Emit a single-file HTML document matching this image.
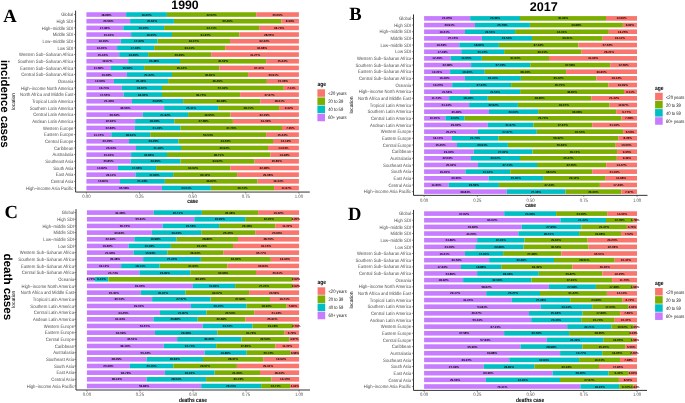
<!DOCTYPE html>
<html><head><meta charset="utf-8"><title>Stacked bars</title>
<style>html,body{margin:0;padding:0;background:#fff;width:685px;height:403px;overflow:hidden;} body{position:relative;font-family:"Liberation Sans", sans-serif;}</style>
</head><body>
<svg width="685" height="403" viewBox="0 0 685 403" style="position:absolute;left:0;top:0;will-change:transform" text-rendering="geometricPrecision">
<rect x="0" y="0" width="685" height="403" fill="#fff"/>
<text transform="translate(73.3,16.20) scale(0.875,1)" text-anchor="end" font-size="4.8" fill="#4d4d4d" font-family='"Liberation Sans", sans-serif'>Global</text>
<line x1="74.00" x2="75.60" y1="14.55" y2="14.55" stroke="#333" stroke-width="0.55"/>
<text transform="translate(73.3,22.87) scale(0.875,1)" text-anchor="end" font-size="4.8" fill="#4d4d4d" font-family='"Liberation Sans", sans-serif'>High SDI</text>
<line x1="74.00" x2="75.60" y1="21.22" y2="21.22" stroke="#333" stroke-width="0.55"/>
<text transform="translate(73.3,29.54) scale(0.875,1)" text-anchor="end" font-size="4.8" fill="#4d4d4d" font-family='"Liberation Sans", sans-serif'>High&#8722;middle SDI</text>
<line x1="74.00" x2="75.60" y1="27.89" y2="27.89" stroke="#333" stroke-width="0.55"/>
<text transform="translate(73.3,36.21) scale(0.875,1)" text-anchor="end" font-size="4.8" fill="#4d4d4d" font-family='"Liberation Sans", sans-serif'>Middle SDI</text>
<line x1="74.00" x2="75.60" y1="34.56" y2="34.56" stroke="#333" stroke-width="0.55"/>
<text transform="translate(73.3,42.88) scale(0.875,1)" text-anchor="end" font-size="4.8" fill="#4d4d4d" font-family='"Liberation Sans", sans-serif'>Low&#8722;middle SDI</text>
<line x1="74.00" x2="75.60" y1="41.23" y2="41.23" stroke="#333" stroke-width="0.55"/>
<text transform="translate(73.3,49.56) scale(0.875,1)" text-anchor="end" font-size="4.8" fill="#4d4d4d" font-family='"Liberation Sans", sans-serif'>Low SDI</text>
<line x1="74.00" x2="75.60" y1="47.91" y2="47.91" stroke="#333" stroke-width="0.55"/>
<text transform="translate(73.3,56.23) scale(0.875,1)" text-anchor="end" font-size="4.8" fill="#4d4d4d" font-family='"Liberation Sans", sans-serif'>Western Sub&#8722;Saharan Africa</text>
<line x1="74.00" x2="75.60" y1="54.58" y2="54.58" stroke="#333" stroke-width="0.55"/>
<text transform="translate(73.3,62.90) scale(0.875,1)" text-anchor="end" font-size="4.8" fill="#4d4d4d" font-family='"Liberation Sans", sans-serif'>Southern Sub&#8722;Saharan Africa</text>
<line x1="74.00" x2="75.60" y1="61.25" y2="61.25" stroke="#333" stroke-width="0.55"/>
<text transform="translate(73.3,69.57) scale(0.875,1)" text-anchor="end" font-size="4.8" fill="#4d4d4d" font-family='"Liberation Sans", sans-serif'>Eastern Sub&#8722;Saharan Africa</text>
<line x1="74.00" x2="75.60" y1="67.92" y2="67.92" stroke="#333" stroke-width="0.55"/>
<text transform="translate(73.3,76.24) scale(0.875,1)" text-anchor="end" font-size="4.8" fill="#4d4d4d" font-family='"Liberation Sans", sans-serif'>Central Sub&#8722;Saharan Africa</text>
<line x1="74.00" x2="75.60" y1="74.59" y2="74.59" stroke="#333" stroke-width="0.55"/>
<text transform="translate(73.3,82.91) scale(0.875,1)" text-anchor="end" font-size="4.8" fill="#4d4d4d" font-family='"Liberation Sans", sans-serif'>Oceania</text>
<line x1="74.00" x2="75.60" y1="81.26" y2="81.26" stroke="#333" stroke-width="0.55"/>
<text transform="translate(73.3,89.58) scale(0.875,1)" text-anchor="end" font-size="4.8" fill="#4d4d4d" font-family='"Liberation Sans", sans-serif'>High&#8722;income North America</text>
<line x1="74.00" x2="75.60" y1="87.93" y2="87.93" stroke="#333" stroke-width="0.55"/>
<text transform="translate(73.3,96.25) scale(0.875,1)" text-anchor="end" font-size="4.8" fill="#4d4d4d" font-family='"Liberation Sans", sans-serif'>North Africa and Middle East</text>
<line x1="74.00" x2="75.60" y1="94.60" y2="94.60" stroke="#333" stroke-width="0.55"/>
<text transform="translate(73.3,102.92) scale(0.875,1)" text-anchor="end" font-size="4.8" fill="#4d4d4d" font-family='"Liberation Sans", sans-serif'>Tropical Latin America</text>
<line x1="74.00" x2="75.60" y1="101.27" y2="101.27" stroke="#333" stroke-width="0.55"/>
<text transform="translate(73.3,109.60) scale(0.875,1)" text-anchor="end" font-size="4.8" fill="#4d4d4d" font-family='"Liberation Sans", sans-serif'>Southern Latin America</text>
<line x1="74.00" x2="75.60" y1="107.95" y2="107.95" stroke="#333" stroke-width="0.55"/>
<text transform="translate(73.3,116.27) scale(0.875,1)" text-anchor="end" font-size="4.8" fill="#4d4d4d" font-family='"Liberation Sans", sans-serif'>Central Latin America</text>
<line x1="74.00" x2="75.60" y1="114.62" y2="114.62" stroke="#333" stroke-width="0.55"/>
<text transform="translate(73.3,122.94) scale(0.875,1)" text-anchor="end" font-size="4.8" fill="#4d4d4d" font-family='"Liberation Sans", sans-serif'>Andean Latin America</text>
<line x1="74.00" x2="75.60" y1="121.29" y2="121.29" stroke="#333" stroke-width="0.55"/>
<text transform="translate(73.3,129.61) scale(0.875,1)" text-anchor="end" font-size="4.8" fill="#4d4d4d" font-family='"Liberation Sans", sans-serif'>Western Europe</text>
<line x1="74.00" x2="75.60" y1="127.96" y2="127.96" stroke="#333" stroke-width="0.55"/>
<text transform="translate(73.3,136.28) scale(0.875,1)" text-anchor="end" font-size="4.8" fill="#4d4d4d" font-family='"Liberation Sans", sans-serif'>Eastern Europe</text>
<line x1="74.00" x2="75.60" y1="134.63" y2="134.63" stroke="#333" stroke-width="0.55"/>
<text transform="translate(73.3,142.95) scale(0.875,1)" text-anchor="end" font-size="4.8" fill="#4d4d4d" font-family='"Liberation Sans", sans-serif'>Central Europe</text>
<line x1="74.00" x2="75.60" y1="141.30" y2="141.30" stroke="#333" stroke-width="0.55"/>
<text transform="translate(73.3,149.62) scale(0.875,1)" text-anchor="end" font-size="4.8" fill="#4d4d4d" font-family='"Liberation Sans", sans-serif'>Caribbean</text>
<line x1="74.00" x2="75.60" y1="147.97" y2="147.97" stroke="#333" stroke-width="0.55"/>
<text transform="translate(73.3,156.29) scale(0.875,1)" text-anchor="end" font-size="4.8" fill="#4d4d4d" font-family='"Liberation Sans", sans-serif'>Australasia</text>
<line x1="74.00" x2="75.60" y1="154.64" y2="154.64" stroke="#333" stroke-width="0.55"/>
<text transform="translate(73.3,162.97) scale(0.875,1)" text-anchor="end" font-size="4.8" fill="#4d4d4d" font-family='"Liberation Sans", sans-serif'>Southeast Asia</text>
<line x1="74.00" x2="75.60" y1="161.32" y2="161.32" stroke="#333" stroke-width="0.55"/>
<text transform="translate(73.3,169.64) scale(0.875,1)" text-anchor="end" font-size="4.8" fill="#4d4d4d" font-family='"Liberation Sans", sans-serif'>South Asia</text>
<line x1="74.00" x2="75.60" y1="167.99" y2="167.99" stroke="#333" stroke-width="0.55"/>
<text transform="translate(73.3,176.31) scale(0.875,1)" text-anchor="end" font-size="4.8" fill="#4d4d4d" font-family='"Liberation Sans", sans-serif'>East Asia</text>
<line x1="74.00" x2="75.60" y1="174.66" y2="174.66" stroke="#333" stroke-width="0.55"/>
<text transform="translate(73.3,182.98) scale(0.875,1)" text-anchor="end" font-size="4.8" fill="#4d4d4d" font-family='"Liberation Sans", sans-serif'>Central Asia</text>
<line x1="74.00" x2="75.60" y1="181.33" y2="181.33" stroke="#333" stroke-width="0.55"/>
<text transform="translate(73.3,189.65) scale(0.875,1)" text-anchor="end" font-size="4.8" fill="#4d4d4d" font-family='"Liberation Sans", sans-serif'>High&#8722;income Asia Pacific</text>
<line x1="74.00" x2="75.60" y1="188.00" y2="188.00" stroke="#333" stroke-width="0.55"/>
<rect x="86.40" y="12.25" width="39.70" height="4.6" fill="#C77CFF"/>
<rect x="126.10" y="12.25" width="40.80" height="4.6" fill="#00BFC4"/>
<rect x="166.90" y="12.25" width="89.30" height="4.6" fill="#7CAE00"/>
<rect x="256.20" y="12.25" width="42.70" height="4.6" fill="#F8766D"/>
<rect x="86.40" y="18.92" width="43.70" height="4.6" fill="#C77CFF"/>
<rect x="130.10" y="18.92" width="43.80" height="4.6" fill="#00BFC4"/>
<rect x="173.90" y="18.92" width="107.30" height="4.6" fill="#7CAE00"/>
<rect x="281.20" y="18.92" width="17.70" height="4.6" fill="#F8766D"/>
<rect x="86.40" y="25.59" width="36.90" height="4.6" fill="#C77CFF"/>
<rect x="123.30" y="25.59" width="40.80" height="4.6" fill="#00BFC4"/>
<rect x="164.10" y="25.59" width="95.00" height="4.6" fill="#7CAE00"/>
<rect x="259.10" y="25.59" width="39.80" height="4.6" fill="#F8766D"/>
<rect x="86.40" y="32.26" width="44.70" height="4.6" fill="#C77CFF"/>
<rect x="131.10" y="32.26" width="40.90" height="4.6" fill="#00BFC4"/>
<rect x="172.00" y="32.26" width="67.30" height="4.6" fill="#7CAE00"/>
<rect x="239.30" y="32.26" width="59.60" height="4.6" fill="#F8766D"/>
<rect x="86.40" y="38.93" width="34.40" height="4.6" fill="#C77CFF"/>
<rect x="120.80" y="38.93" width="36.80" height="4.6" fill="#00BFC4"/>
<rect x="157.60" y="38.93" width="72.40" height="4.6" fill="#7CAE00"/>
<rect x="230.00" y="38.93" width="68.90" height="4.6" fill="#F8766D"/>
<rect x="86.40" y="45.61" width="30.70" height="4.6" fill="#C77CFF"/>
<rect x="117.10" y="45.61" width="37.10" height="4.6" fill="#00BFC4"/>
<rect x="154.20" y="45.61" width="71.00" height="4.6" fill="#7CAE00"/>
<rect x="225.20" y="45.61" width="73.70" height="4.6" fill="#F8766D"/>
<rect x="86.40" y="52.28" width="32.80" height="4.6" fill="#C77CFF"/>
<rect x="119.20" y="52.28" width="28.90" height="4.6" fill="#00BFC4"/>
<rect x="148.10" y="52.28" width="63.10" height="4.6" fill="#7CAE00"/>
<rect x="211.20" y="52.28" width="87.70" height="4.6" fill="#F8766D"/>
<rect x="86.40" y="58.95" width="41.80" height="4.6" fill="#C77CFF"/>
<rect x="128.20" y="58.95" width="51.80" height="4.6" fill="#00BFC4"/>
<rect x="180.00" y="58.95" width="86.10" height="4.6" fill="#7CAE00"/>
<rect x="266.10" y="58.95" width="32.80" height="4.6" fill="#F8766D"/>
<rect x="86.40" y="65.62" width="24.60" height="4.6" fill="#C77CFF"/>
<rect x="111.00" y="65.62" width="33.10" height="4.6" fill="#00BFC4"/>
<rect x="144.10" y="65.62" width="75.30" height="4.6" fill="#7CAE00"/>
<rect x="219.40" y="65.62" width="79.50" height="4.6" fill="#F8766D"/>
<rect x="86.40" y="72.29" width="40.50" height="4.6" fill="#C77CFF"/>
<rect x="126.90" y="72.29" width="45.10" height="4.6" fill="#00BFC4"/>
<rect x="172.00" y="72.29" width="76.10" height="4.6" fill="#7CAE00"/>
<rect x="248.10" y="72.29" width="50.80" height="4.6" fill="#F8766D"/>
<rect x="86.40" y="78.96" width="27.60" height="4.6" fill="#C77CFF"/>
<rect x="114.00" y="78.96" width="54.10" height="4.6" fill="#00BFC4"/>
<rect x="168.10" y="78.96" width="98.80" height="4.6" fill="#7CAE00"/>
<rect x="266.90" y="78.96" width="32.00" height="4.6" fill="#F8766D"/>
<rect x="86.40" y="85.63" width="35.50" height="4.6" fill="#C77CFF"/>
<rect x="121.90" y="85.63" width="40.10" height="4.6" fill="#00BFC4"/>
<rect x="162.00" y="85.63" width="121.80" height="4.6" fill="#7CAE00"/>
<rect x="283.80" y="85.63" width="15.10" height="4.6" fill="#F8766D"/>
<rect x="86.40" y="92.30" width="37.30" height="4.6" fill="#C77CFF"/>
<rect x="123.70" y="92.30" width="38.30" height="4.6" fill="#00BFC4"/>
<rect x="162.00" y="92.30" width="78.10" height="4.6" fill="#7CAE00"/>
<rect x="240.10" y="92.30" width="58.80" height="4.6" fill="#F8766D"/>
<rect x="86.40" y="98.97" width="45.60" height="4.6" fill="#C77CFF"/>
<rect x="132.00" y="98.97" width="51.10" height="4.6" fill="#00BFC4"/>
<rect x="183.10" y="98.97" width="77.10" height="4.6" fill="#7CAE00"/>
<rect x="260.20" y="98.97" width="38.70" height="4.6" fill="#F8766D"/>
<rect x="86.40" y="105.65" width="77.70" height="4.6" fill="#C77CFF"/>
<rect x="164.10" y="105.65" width="54.00" height="4.6" fill="#00BFC4"/>
<rect x="218.10" y="105.65" width="61.00" height="4.6" fill="#7CAE00"/>
<rect x="279.10" y="105.65" width="19.80" height="4.6" fill="#F8766D"/>
<rect x="86.40" y="112.32" width="56.40" height="4.6" fill="#C77CFF"/>
<rect x="142.80" y="112.32" width="45.30" height="4.6" fill="#00BFC4"/>
<rect x="188.10" y="112.32" width="42.40" height="4.6" fill="#7CAE00"/>
<rect x="230.50" y="112.32" width="68.40" height="4.6" fill="#F8766D"/>
<rect x="86.40" y="118.99" width="48.70" height="4.6" fill="#C77CFF"/>
<rect x="135.10" y="118.99" width="39.20" height="4.6" fill="#00BFC4"/>
<rect x="174.30" y="118.99" width="58.60" height="4.6" fill="#7CAE00"/>
<rect x="232.90" y="118.99" width="66.00" height="4.6" fill="#F8766D"/>
<rect x="86.40" y="125.66" width="48.50" height="4.6" fill="#C77CFF"/>
<rect x="134.90" y="125.66" width="45.60" height="4.6" fill="#00BFC4"/>
<rect x="180.50" y="125.66" width="101.50" height="4.6" fill="#7CAE00"/>
<rect x="282.00" y="125.66" width="16.90" height="4.6" fill="#F8766D"/>
<rect x="86.40" y="132.33" width="24.90" height="4.6" fill="#C77CFF"/>
<rect x="111.30" y="132.33" width="38.90" height="4.6" fill="#00BFC4"/>
<rect x="150.20" y="132.33" width="115.90" height="4.6" fill="#7CAE00"/>
<rect x="266.10" y="132.33" width="32.80" height="4.6" fill="#F8766D"/>
<rect x="86.40" y="139.00" width="42.60" height="4.6" fill="#C77CFF"/>
<rect x="129.00" y="139.00" width="49.40" height="4.6" fill="#00BFC4"/>
<rect x="178.40" y="139.00" width="94.60" height="4.6" fill="#7CAE00"/>
<rect x="273.00" y="139.00" width="25.90" height="4.6" fill="#F8766D"/>
<rect x="86.40" y="145.67" width="49.60" height="4.6" fill="#C77CFF"/>
<rect x="136.00" y="145.67" width="45.00" height="4.6" fill="#00BFC4"/>
<rect x="181.00" y="145.67" width="87.00" height="4.6" fill="#7CAE00"/>
<rect x="268.00" y="145.67" width="30.90" height="4.6" fill="#F8766D"/>
<rect x="86.40" y="152.34" width="44.70" height="4.6" fill="#C77CFF"/>
<rect x="131.10" y="152.34" width="35.90" height="4.6" fill="#00BFC4"/>
<rect x="167.00" y="152.34" width="103.50" height="4.6" fill="#7CAE00"/>
<rect x="270.50" y="152.34" width="28.40" height="4.6" fill="#F8766D"/>
<rect x="86.40" y="159.02" width="44.30" height="4.6" fill="#C77CFF"/>
<rect x="130.70" y="159.02" width="49.70" height="4.6" fill="#00BFC4"/>
<rect x="180.40" y="159.02" width="74.20" height="4.6" fill="#7CAE00"/>
<rect x="254.60" y="159.02" width="44.30" height="4.6" fill="#F8766D"/>
<rect x="86.40" y="165.69" width="31.50" height="4.6" fill="#C77CFF"/>
<rect x="117.90" y="165.69" width="38.20" height="4.6" fill="#00BFC4"/>
<rect x="156.10" y="165.69" width="74.20" height="4.6" fill="#7CAE00"/>
<rect x="230.30" y="165.69" width="68.60" height="4.6" fill="#F8766D"/>
<rect x="86.40" y="172.36" width="49.10" height="4.6" fill="#C77CFF"/>
<rect x="135.50" y="172.36" width="37.60" height="4.6" fill="#00BFC4"/>
<rect x="173.10" y="172.36" width="64.00" height="4.6" fill="#7CAE00"/>
<rect x="237.10" y="172.36" width="61.80" height="4.6" fill="#F8766D"/>
<rect x="86.40" y="179.03" width="33.60" height="4.6" fill="#C77CFF"/>
<rect x="120.00" y="179.03" width="44.90" height="4.6" fill="#00BFC4"/>
<rect x="164.90" y="179.03" width="92.70" height="4.6" fill="#7CAE00"/>
<rect x="257.60" y="179.03" width="41.30" height="4.6" fill="#F8766D"/>
<rect x="86.40" y="185.70" width="75.60" height="4.6" fill="#C77CFF"/>
<rect x="162.00" y="185.70" width="48.90" height="4.6" fill="#00BFC4"/>
<rect x="210.90" y="185.70" width="63.20" height="4.6" fill="#7CAE00"/>
<rect x="274.10" y="185.70" width="24.80" height="4.6" fill="#F8766D"/>
<g font-size="3.0" font-weight="bold" text-anchor="middle" fill="#000" font-family='"Liberation Sans", sans-serif'><text x="106.25" y="15.60">18.68%</text><text x="146.50" y="15.60">19.20%</text><text x="211.55" y="15.60">42.02%</text><text x="277.55" y="15.60">20.09%</text><text x="108.25" y="22.27">20.56%</text><text x="152.00" y="22.27">20.61%</text><text x="227.55" y="22.27">50.49%</text><text x="290.05" y="22.27">8.33%</text><text x="104.85" y="28.94">17.36%</text><text x="143.70" y="28.94">19.20%</text><text x="211.60" y="28.94">44.71%</text><text x="279.00" y="28.94">18.73%</text><text x="108.75" y="35.61">21.04%</text><text x="151.55" y="35.61">19.25%</text><text x="205.65" y="35.61">31.67%</text><text x="269.10" y="35.61">28.05%</text><text x="103.60" y="42.28">16.19%</text><text x="139.20" y="42.28">17.32%</text><text x="193.80" y="42.28">34.07%</text><text x="264.45" y="42.28">32.42%</text><text x="101.75" y="48.96">14.45%</text><text x="135.65" y="48.96">17.46%</text><text x="189.70" y="48.96">33.41%</text><text x="262.05" y="48.96">34.68%</text><text x="102.80" y="55.63">15.44%</text><text x="133.65" y="55.63">13.60%</text><text x="179.65" y="55.63">29.69%</text><text x="255.05" y="55.63">41.27%</text><text x="107.30" y="62.30">19.67%</text><text x="154.10" y="62.30">24.38%</text><text x="223.05" y="62.30">40.52%</text><text x="282.50" y="62.30">15.44%</text><text x="98.70" y="68.97">11.58%</text><text x="127.55" y="68.97">15.58%</text><text x="181.75" y="68.97">35.44%</text><text x="259.15" y="68.97">37.41%</text><text x="106.65" y="75.64">19.06%</text><text x="149.45" y="75.64">21.22%</text><text x="210.05" y="75.64">35.81%</text><text x="273.50" y="75.64">23.91%</text><text x="100.20" y="82.31">12.99%</text><text x="141.05" y="82.31">25.46%</text><text x="217.50" y="82.31">46.49%</text><text x="282.90" y="82.31">15.06%</text><text x="104.15" y="88.98">16.71%</text><text x="141.95" y="88.98">18.87%</text><text x="222.90" y="88.98">57.32%</text><text x="291.35" y="88.98">7.11%</text><text x="105.05" y="95.65">17.55%</text><text x="142.85" y="95.65">18.02%</text><text x="201.05" y="95.65">36.75%</text><text x="269.50" y="95.65">27.67%</text><text x="109.20" y="102.32">21.46%</text><text x="157.55" y="102.32">24.05%</text><text x="221.65" y="102.32">36.28%</text><text x="279.55" y="102.32">18.21%</text><text x="125.25" y="109.00">36.56%</text><text x="191.10" y="109.00">25.41%</text><text x="248.60" y="109.00">28.71%</text><text x="289.00" y="109.00">9.32%</text><text x="114.60" y="115.67">26.54%</text><text x="165.45" y="115.67">21.32%</text><text x="209.30" y="115.67">19.95%</text><text x="264.70" y="115.67">32.19%</text><text x="110.75" y="122.34">22.92%</text><text x="154.70" y="122.34">18.45%</text><text x="203.60" y="122.34">27.58%</text><text x="265.90" y="122.34">31.06%</text><text x="110.65" y="129.01">22.82%</text><text x="157.70" y="129.01">21.46%</text><text x="231.25" y="129.01">47.76%</text><text x="290.45" y="129.01">7.95%</text><text x="98.85" y="135.68">11.72%</text><text x="130.75" y="135.68">18.31%</text><text x="208.15" y="135.68">54.54%</text><text x="282.50" y="135.68">15.44%</text><text x="107.70" y="142.35">20.05%</text><text x="153.70" y="142.35">23.25%</text><text x="225.70" y="142.35">44.52%</text><text x="285.95" y="142.35">12.19%</text><text x="111.20" y="149.02">23.34%</text><text x="158.50" y="149.02">21.18%</text><text x="224.50" y="149.02">40.94%</text><text x="283.45" y="149.02">14.54%</text><text x="108.75" y="155.69">21.04%</text><text x="149.05" y="155.69">16.89%</text><text x="218.75" y="155.69">48.71%</text><text x="284.70" y="155.69">13.36%</text><text x="108.55" y="162.37">20.85%</text><text x="155.55" y="162.37">23.39%</text><text x="217.50" y="162.37">34.92%</text><text x="276.75" y="162.37">20.85%</text><text x="102.15" y="169.04">14.82%</text><text x="137.00" y="169.04">17.98%</text><text x="193.20" y="169.04">34.92%</text><text x="264.60" y="169.04">32.28%</text><text x="110.95" y="175.71">23.11%</text><text x="154.30" y="175.71">17.69%</text><text x="205.10" y="175.71">30.12%</text><text x="268.00" y="175.71">29.08%</text><text x="103.20" y="182.38">15.81%</text><text x="142.45" y="182.38">21.13%</text><text x="211.25" y="182.38">43.62%</text><text x="278.25" y="182.38">19.44%</text><text x="124.20" y="189.05">35.58%</text><text x="186.45" y="189.05">23.01%</text><text x="242.50" y="189.05">29.74%</text><text x="286.50" y="189.05">11.67%</text></g>
<path d="M75.60 10.60 V192.05 H309.80" fill="none" stroke="#333" stroke-width="1.0"/>
<line x1="86.40" x2="86.40" y1="192.05" y2="193.65" stroke="#333" stroke-width="0.55"/>
<text transform="translate(86.40,197.60) scale(0.865,1)" text-anchor="middle" font-size="4.9" fill="#4d4d4d" font-family='"Liberation Sans", sans-serif'>0.00</text>
<line x1="139.53" x2="139.53" y1="192.05" y2="193.65" stroke="#333" stroke-width="0.55"/>
<text transform="translate(139.53,197.60) scale(0.865,1)" text-anchor="middle" font-size="4.9" fill="#4d4d4d" font-family='"Liberation Sans", sans-serif'>0.25</text>
<line x1="192.65" x2="192.65" y1="192.05" y2="193.65" stroke="#333" stroke-width="0.55"/>
<text transform="translate(192.65,197.60) scale(0.865,1)" text-anchor="middle" font-size="4.9" fill="#4d4d4d" font-family='"Liberation Sans", sans-serif'>0.50</text>
<line x1="245.77" x2="245.77" y1="192.05" y2="193.65" stroke="#333" stroke-width="0.55"/>
<text transform="translate(245.77,197.60) scale(0.865,1)" text-anchor="middle" font-size="4.9" fill="#4d4d4d" font-family='"Liberation Sans", sans-serif'>0.75</text>
<line x1="298.90" x2="298.90" y1="192.05" y2="193.65" stroke="#333" stroke-width="0.55"/>
<text transform="translate(298.90,197.60) scale(0.865,1)" text-anchor="middle" font-size="4.9" fill="#4d4d4d" font-family='"Liberation Sans", sans-serif'>1.00</text>
<text transform="translate(192.6,203.4) scale(0.815,1)" text-anchor="middle" font-size="6.0" font-weight="bold" fill="#000" font-family='"Liberation Sans", sans-serif'>case</text>
<text x="3.2" y="22.1" font-size="18.6" font-weight="bold" fill="#000" font-family='"Liberation Serif", serif'>A</text>
<text transform="translate(411.1,20.05) scale(0.875,1)" text-anchor="end" font-size="4.8" fill="#4d4d4d" font-family='"Liberation Sans", sans-serif'>Global</text>
<line x1="411.90" x2="413.50" y1="18.40" y2="18.40" stroke="#333" stroke-width="0.55"/>
<text transform="translate(411.1,26.71) scale(0.875,1)" text-anchor="end" font-size="4.8" fill="#4d4d4d" font-family='"Liberation Sans", sans-serif'>High SDI</text>
<line x1="411.90" x2="413.50" y1="25.06" y2="25.06" stroke="#333" stroke-width="0.55"/>
<text transform="translate(411.1,33.37) scale(0.875,1)" text-anchor="end" font-size="4.8" fill="#4d4d4d" font-family='"Liberation Sans", sans-serif'>High&#8722;middle SDI</text>
<line x1="411.90" x2="413.50" y1="31.72" y2="31.72" stroke="#333" stroke-width="0.55"/>
<text transform="translate(411.1,40.03) scale(0.875,1)" text-anchor="end" font-size="4.8" fill="#4d4d4d" font-family='"Liberation Sans", sans-serif'>Middle SDI</text>
<line x1="411.90" x2="413.50" y1="38.38" y2="38.38" stroke="#333" stroke-width="0.55"/>
<text transform="translate(411.1,46.70) scale(0.875,1)" text-anchor="end" font-size="4.8" fill="#4d4d4d" font-family='"Liberation Sans", sans-serif'>Low&#8722;middle SDI</text>
<line x1="411.90" x2="413.50" y1="45.05" y2="45.05" stroke="#333" stroke-width="0.55"/>
<text transform="translate(411.1,53.36) scale(0.875,1)" text-anchor="end" font-size="4.8" fill="#4d4d4d" font-family='"Liberation Sans", sans-serif'>Low SDI</text>
<line x1="411.90" x2="413.50" y1="51.71" y2="51.71" stroke="#333" stroke-width="0.55"/>
<text transform="translate(411.1,60.02) scale(0.875,1)" text-anchor="end" font-size="4.8" fill="#4d4d4d" font-family='"Liberation Sans", sans-serif'>Western Sub&#8722;Saharan Africa</text>
<line x1="411.90" x2="413.50" y1="58.37" y2="58.37" stroke="#333" stroke-width="0.55"/>
<text transform="translate(411.1,66.68) scale(0.875,1)" text-anchor="end" font-size="4.8" fill="#4d4d4d" font-family='"Liberation Sans", sans-serif'>Southern Sub&#8722;Saharan Africa</text>
<line x1="411.90" x2="413.50" y1="65.03" y2="65.03" stroke="#333" stroke-width="0.55"/>
<text transform="translate(411.1,73.34) scale(0.875,1)" text-anchor="end" font-size="4.8" fill="#4d4d4d" font-family='"Liberation Sans", sans-serif'>Eastern Sub&#8722;Saharan Africa</text>
<line x1="411.90" x2="413.50" y1="71.69" y2="71.69" stroke="#333" stroke-width="0.55"/>
<text transform="translate(411.1,80.00) scale(0.875,1)" text-anchor="end" font-size="4.8" fill="#4d4d4d" font-family='"Liberation Sans", sans-serif'>Central Sub&#8722;Saharan Africa</text>
<line x1="411.90" x2="413.50" y1="78.35" y2="78.35" stroke="#333" stroke-width="0.55"/>
<text transform="translate(411.1,86.67) scale(0.875,1)" text-anchor="end" font-size="4.8" fill="#4d4d4d" font-family='"Liberation Sans", sans-serif'>Oceania</text>
<line x1="411.90" x2="413.50" y1="85.02" y2="85.02" stroke="#333" stroke-width="0.55"/>
<text transform="translate(411.1,93.33) scale(0.875,1)" text-anchor="end" font-size="4.8" fill="#4d4d4d" font-family='"Liberation Sans", sans-serif'>High&#8722;income North America</text>
<line x1="411.90" x2="413.50" y1="91.68" y2="91.68" stroke="#333" stroke-width="0.55"/>
<text transform="translate(411.1,99.99) scale(0.875,1)" text-anchor="end" font-size="4.8" fill="#4d4d4d" font-family='"Liberation Sans", sans-serif'>North Africa and Middle East</text>
<line x1="411.90" x2="413.50" y1="98.34" y2="98.34" stroke="#333" stroke-width="0.55"/>
<text transform="translate(411.1,106.65) scale(0.875,1)" text-anchor="end" font-size="4.8" fill="#4d4d4d" font-family='"Liberation Sans", sans-serif'>Tropical Latin America</text>
<line x1="411.90" x2="413.50" y1="105.00" y2="105.00" stroke="#333" stroke-width="0.55"/>
<text transform="translate(411.1,113.31) scale(0.875,1)" text-anchor="end" font-size="4.8" fill="#4d4d4d" font-family='"Liberation Sans", sans-serif'>Southern Latin America</text>
<line x1="411.90" x2="413.50" y1="111.66" y2="111.66" stroke="#333" stroke-width="0.55"/>
<text transform="translate(411.1,119.97) scale(0.875,1)" text-anchor="end" font-size="4.8" fill="#4d4d4d" font-family='"Liberation Sans", sans-serif'>Central Latin America</text>
<line x1="411.90" x2="413.50" y1="118.32" y2="118.32" stroke="#333" stroke-width="0.55"/>
<text transform="translate(411.1,126.63) scale(0.875,1)" text-anchor="end" font-size="4.8" fill="#4d4d4d" font-family='"Liberation Sans", sans-serif'>Andean Latin America</text>
<line x1="411.90" x2="413.50" y1="124.98" y2="124.98" stroke="#333" stroke-width="0.55"/>
<text transform="translate(411.1,133.30) scale(0.875,1)" text-anchor="end" font-size="4.8" fill="#4d4d4d" font-family='"Liberation Sans", sans-serif'>Western Europe</text>
<line x1="411.90" x2="413.50" y1="131.65" y2="131.65" stroke="#333" stroke-width="0.55"/>
<text transform="translate(411.1,139.96) scale(0.875,1)" text-anchor="end" font-size="4.8" fill="#4d4d4d" font-family='"Liberation Sans", sans-serif'>Eastern Europe</text>
<line x1="411.90" x2="413.50" y1="138.31" y2="138.31" stroke="#333" stroke-width="0.55"/>
<text transform="translate(411.1,146.62) scale(0.875,1)" text-anchor="end" font-size="4.8" fill="#4d4d4d" font-family='"Liberation Sans", sans-serif'>Central Europe</text>
<line x1="411.90" x2="413.50" y1="144.97" y2="144.97" stroke="#333" stroke-width="0.55"/>
<text transform="translate(411.1,153.28) scale(0.875,1)" text-anchor="end" font-size="4.8" fill="#4d4d4d" font-family='"Liberation Sans", sans-serif'>Caribbean</text>
<line x1="411.90" x2="413.50" y1="151.63" y2="151.63" stroke="#333" stroke-width="0.55"/>
<text transform="translate(411.1,159.94) scale(0.875,1)" text-anchor="end" font-size="4.8" fill="#4d4d4d" font-family='"Liberation Sans", sans-serif'>Australasia</text>
<line x1="411.90" x2="413.50" y1="158.29" y2="158.29" stroke="#333" stroke-width="0.55"/>
<text transform="translate(411.1,166.60) scale(0.875,1)" text-anchor="end" font-size="4.8" fill="#4d4d4d" font-family='"Liberation Sans", sans-serif'>Southeast Asia</text>
<line x1="411.90" x2="413.50" y1="164.95" y2="164.95" stroke="#333" stroke-width="0.55"/>
<text transform="translate(411.1,173.27) scale(0.875,1)" text-anchor="end" font-size="4.8" fill="#4d4d4d" font-family='"Liberation Sans", sans-serif'>South Asia</text>
<line x1="411.90" x2="413.50" y1="171.62" y2="171.62" stroke="#333" stroke-width="0.55"/>
<text transform="translate(411.1,179.93) scale(0.875,1)" text-anchor="end" font-size="4.8" fill="#4d4d4d" font-family='"Liberation Sans", sans-serif'>East Asia</text>
<line x1="411.90" x2="413.50" y1="178.28" y2="178.28" stroke="#333" stroke-width="0.55"/>
<text transform="translate(411.1,186.59) scale(0.875,1)" text-anchor="end" font-size="4.8" fill="#4d4d4d" font-family='"Liberation Sans", sans-serif'>Central Asia</text>
<line x1="411.90" x2="413.50" y1="184.94" y2="184.94" stroke="#333" stroke-width="0.55"/>
<text transform="translate(411.1,193.25) scale(0.875,1)" text-anchor="end" font-size="4.8" fill="#4d4d4d" font-family='"Liberation Sans", sans-serif'>High&#8722;income Asia Pacific</text>
<line x1="411.90" x2="413.50" y1="191.60" y2="191.60" stroke="#333" stroke-width="0.55"/>
<rect x="424.10" y="16.10" width="46.10" height="4.6" fill="#C77CFF"/>
<rect x="470.20" y="16.10" width="49.80" height="4.6" fill="#00BFC4"/>
<rect x="520.00" y="16.10" width="86.00" height="4.6" fill="#7CAE00"/>
<rect x="606.00" y="16.10" width="31.00" height="4.6" fill="#F8766D"/>
<rect x="424.10" y="22.76" width="50.90" height="4.6" fill="#C77CFF"/>
<rect x="475.00" y="22.76" width="54.90" height="4.6" fill="#00BFC4"/>
<rect x="529.90" y="22.76" width="93.00" height="4.6" fill="#7CAE00"/>
<rect x="622.90" y="22.76" width="14.10" height="4.6" fill="#F8766D"/>
<rect x="424.10" y="29.42" width="40.90" height="4.6" fill="#C77CFF"/>
<rect x="465.00" y="29.42" width="50.10" height="4.6" fill="#00BFC4"/>
<rect x="515.10" y="29.42" width="93.70" height="4.6" fill="#7CAE00"/>
<rect x="608.80" y="29.42" width="28.20" height="4.6" fill="#F8766D"/>
<rect x="424.10" y="36.08" width="57.80" height="4.6" fill="#C77CFF"/>
<rect x="481.90" y="36.08" width="50.10" height="4.6" fill="#00BFC4"/>
<rect x="532.00" y="36.08" width="70.70" height="4.6" fill="#7CAE00"/>
<rect x="602.70" y="36.08" width="34.30" height="4.6" fill="#F8766D"/>
<rect x="424.10" y="42.75" width="35.20" height="4.6" fill="#C77CFF"/>
<rect x="459.30" y="42.75" width="39.60" height="4.6" fill="#00BFC4"/>
<rect x="498.90" y="42.75" width="79.50" height="4.6" fill="#7CAE00"/>
<rect x="578.40" y="42.75" width="58.60" height="4.6" fill="#F8766D"/>
<rect x="424.10" y="49.41" width="37.10" height="4.6" fill="#C77CFF"/>
<rect x="461.20" y="49.41" width="42.90" height="4.6" fill="#00BFC4"/>
<rect x="504.10" y="49.41" width="77.10" height="4.6" fill="#7CAE00"/>
<rect x="581.20" y="49.41" width="55.80" height="4.6" fill="#F8766D"/>
<rect x="424.10" y="56.07" width="26.60" height="4.6" fill="#C77CFF"/>
<rect x="450.70" y="56.07" width="31.20" height="4.6" fill="#00BFC4"/>
<rect x="481.90" y="56.07" width="67.10" height="4.6" fill="#7CAE00"/>
<rect x="549.00" y="56.07" width="88.00" height="4.6" fill="#F8766D"/>
<rect x="424.10" y="62.73" width="47.00" height="4.6" fill="#C77CFF"/>
<rect x="471.10" y="62.73" width="59.10" height="4.6" fill="#00BFC4"/>
<rect x="530.20" y="62.73" width="80.00" height="4.6" fill="#7CAE00"/>
<rect x="610.20" y="62.73" width="26.80" height="4.6" fill="#F8766D"/>
<rect x="424.10" y="69.39" width="26.00" height="4.6" fill="#C77CFF"/>
<rect x="450.10" y="69.39" width="34.70" height="4.6" fill="#00BFC4"/>
<rect x="484.80" y="69.39" width="81.30" height="4.6" fill="#7CAE00"/>
<rect x="566.10" y="69.39" width="70.90" height="4.6" fill="#F8766D"/>
<rect x="424.10" y="76.05" width="40.80" height="4.6" fill="#C77CFF"/>
<rect x="464.90" y="76.05" width="56.00" height="4.6" fill="#00BFC4"/>
<rect x="520.90" y="76.05" width="75.40" height="4.6" fill="#7CAE00"/>
<rect x="596.30" y="76.05" width="40.70" height="4.6" fill="#F8766D"/>
<rect x="424.10" y="82.72" width="28.10" height="4.6" fill="#C77CFF"/>
<rect x="452.20" y="82.72" width="58.90" height="4.6" fill="#00BFC4"/>
<rect x="511.10" y="82.72" width="97.40" height="4.6" fill="#7CAE00"/>
<rect x="608.50" y="82.72" width="28.50" height="4.6" fill="#F8766D"/>
<rect x="424.10" y="89.38" width="45.90" height="4.6" fill="#C77CFF"/>
<rect x="470.00" y="89.38" width="50.10" height="4.6" fill="#00BFC4"/>
<rect x="520.10" y="89.38" width="103.90" height="4.6" fill="#7CAE00"/>
<rect x="624.00" y="89.38" width="13.00" height="4.6" fill="#F8766D"/>
<rect x="424.10" y="96.04" width="25.00" height="4.6" fill="#C77CFF"/>
<rect x="449.10" y="96.04" width="38.70" height="4.6" fill="#00BFC4"/>
<rect x="487.80" y="96.04" width="103.60" height="4.6" fill="#7CAE00"/>
<rect x="591.40" y="96.04" width="45.60" height="4.6" fill="#F8766D"/>
<rect x="424.10" y="102.70" width="45.00" height="4.6" fill="#C77CFF"/>
<rect x="469.10" y="102.70" width="48.80" height="4.6" fill="#00BFC4"/>
<rect x="517.90" y="102.70" width="91.70" height="4.6" fill="#7CAE00"/>
<rect x="609.60" y="102.70" width="27.40" height="4.6" fill="#F8766D"/>
<rect x="424.10" y="109.36" width="64.90" height="4.6" fill="#C77CFF"/>
<rect x="489.00" y="109.36" width="49.10" height="4.6" fill="#00BFC4"/>
<rect x="538.10" y="109.36" width="78.10" height="4.6" fill="#7CAE00"/>
<rect x="616.20" y="109.36" width="20.80" height="4.6" fill="#F8766D"/>
<rect x="424.10" y="116.02" width="21.30" height="4.6" fill="#C77CFF"/>
<rect x="445.40" y="116.02" width="19.20" height="4.6" fill="#00BFC4"/>
<rect x="464.60" y="116.02" width="156.90" height="4.6" fill="#7CAE00"/>
<rect x="621.50" y="116.02" width="15.50" height="4.6" fill="#F8766D"/>
<rect x="424.10" y="122.68" width="63.70" height="4.6" fill="#C77CFF"/>
<rect x="487.80" y="122.68" width="45.50" height="4.6" fill="#00BFC4"/>
<rect x="533.30" y="122.68" width="58.90" height="4.6" fill="#7CAE00"/>
<rect x="592.20" y="122.68" width="44.80" height="4.6" fill="#F8766D"/>
<rect x="424.10" y="129.35" width="53.80" height="4.6" fill="#C77CFF"/>
<rect x="477.90" y="129.35" width="58.90" height="4.6" fill="#00BFC4"/>
<rect x="536.80" y="129.35" width="86.30" height="4.6" fill="#7CAE00"/>
<rect x="623.10" y="129.35" width="13.90" height="4.6" fill="#F8766D"/>
<rect x="424.10" y="136.01" width="27.90" height="4.6" fill="#C77CFF"/>
<rect x="452.00" y="136.01" width="46.40" height="4.6" fill="#00BFC4"/>
<rect x="498.40" y="136.01" width="119.90" height="4.6" fill="#7CAE00"/>
<rect x="618.30" y="136.01" width="18.70" height="4.6" fill="#F8766D"/>
<rect x="424.10" y="142.67" width="32.90" height="4.6" fill="#C77CFF"/>
<rect x="457.00" y="142.67" width="50.90" height="4.6" fill="#00BFC4"/>
<rect x="507.90" y="142.67" width="107.80" height="4.6" fill="#7CAE00"/>
<rect x="615.70" y="142.67" width="21.30" height="4.6" fill="#F8766D"/>
<rect x="424.10" y="149.33" width="49.60" height="4.6" fill="#C77CFF"/>
<rect x="473.70" y="149.33" width="58.80" height="4.6" fill="#00BFC4"/>
<rect x="532.50" y="149.33" width="84.60" height="4.6" fill="#7CAE00"/>
<rect x="617.10" y="149.33" width="19.90" height="4.6" fill="#F8766D"/>
<rect x="424.10" y="155.99" width="46.90" height="4.6" fill="#C77CFF"/>
<rect x="471.00" y="155.99" width="49.00" height="4.6" fill="#00BFC4"/>
<rect x="520.00" y="155.99" width="96.80" height="4.6" fill="#7CAE00"/>
<rect x="616.80" y="155.99" width="20.20" height="4.6" fill="#F8766D"/>
<rect x="424.10" y="162.65" width="53.90" height="4.6" fill="#C77CFF"/>
<rect x="478.00" y="162.65" width="59.00" height="4.6" fill="#00BFC4"/>
<rect x="537.00" y="162.65" width="69.20" height="4.6" fill="#7CAE00"/>
<rect x="606.20" y="162.65" width="30.80" height="4.6" fill="#F8766D"/>
<rect x="424.10" y="169.32" width="41.30" height="4.6" fill="#C77CFF"/>
<rect x="465.40" y="169.32" width="44.80" height="4.6" fill="#00BFC4"/>
<rect x="510.20" y="169.32" width="82.00" height="4.6" fill="#7CAE00"/>
<rect x="592.20" y="169.32" width="44.80" height="4.6" fill="#F8766D"/>
<rect x="424.10" y="175.98" width="64.50" height="4.6" fill="#C77CFF"/>
<rect x="488.60" y="175.98" width="54.50" height="4.6" fill="#00BFC4"/>
<rect x="543.10" y="175.98" width="62.00" height="4.6" fill="#7CAE00"/>
<rect x="605.10" y="175.98" width="31.90" height="4.6" fill="#F8766D"/>
<rect x="424.10" y="182.64" width="24.70" height="4.6" fill="#C77CFF"/>
<rect x="448.80" y="182.64" width="50.10" height="4.6" fill="#00BFC4"/>
<rect x="498.90" y="182.64" width="101.00" height="4.6" fill="#7CAE00"/>
<rect x="599.90" y="182.64" width="37.10" height="4.6" fill="#F8766D"/>
<rect x="424.10" y="189.30" width="82.70" height="4.6" fill="#C77CFF"/>
<rect x="506.80" y="189.30" width="58.50" height="4.6" fill="#00BFC4"/>
<rect x="565.30" y="189.30" width="56.00" height="4.6" fill="#7CAE00"/>
<rect x="621.30" y="189.30" width="15.70" height="4.6" fill="#F8766D"/>
<g font-size="3.0" font-weight="bold" text-anchor="middle" fill="#000" font-family='"Liberation Sans", sans-serif'><text x="447.15" y="19.45">21.65%</text><text x="495.10" y="19.45">23.39%</text><text x="563.00" y="19.45">40.39%</text><text x="621.50" y="19.45">14.56%</text><text x="449.55" y="26.11">23.91%</text><text x="502.45" y="26.11">25.79%</text><text x="576.40" y="26.11">43.68%</text><text x="629.95" y="26.11">6.62%</text><text x="444.55" y="32.77">19.21%</text><text x="490.05" y="32.77">23.53%</text><text x="561.95" y="32.77">44.01%</text><text x="622.90" y="32.77">13.25%</text><text x="453.00" y="39.43">27.15%</text><text x="506.95" y="39.43">23.53%</text><text x="567.35" y="39.43">33.21%</text><text x="619.85" y="39.43">16.11%</text><text x="441.70" y="46.10">16.53%</text><text x="479.10" y="46.10">18.60%</text><text x="538.65" y="46.10">37.34%</text><text x="607.70" y="46.10">27.52%</text><text x="442.65" y="52.76">17.43%</text><text x="482.65" y="52.76">20.15%</text><text x="542.65" y="52.76">36.21%</text><text x="609.10" y="52.76">26.21%</text><text x="437.40" y="59.42">12.49%</text><text x="466.30" y="59.42">14.65%</text><text x="515.45" y="59.42">31.52%</text><text x="593.00" y="59.42">41.33%</text><text x="447.60" y="66.08">22.08%</text><text x="500.65" y="66.08">27.76%</text><text x="570.20" y="66.08">37.58%</text><text x="623.60" y="66.08">12.59%</text><text x="437.10" y="72.74">12.21%</text><text x="467.45" y="72.74">16.30%</text><text x="525.45" y="72.74">38.19%</text><text x="601.55" y="72.74">33.30%</text><text x="444.50" y="79.40">19.16%</text><text x="492.90" y="79.40">26.30%</text><text x="558.60" y="79.40">35.42%</text><text x="616.65" y="79.40">19.12%</text><text x="438.15" y="86.07">13.20%</text><text x="481.65" y="86.07">27.67%</text><text x="559.80" y="86.07">45.75%</text><text x="622.75" y="86.07">13.39%</text><text x="447.05" y="92.73">21.56%</text><text x="495.05" y="92.73">23.53%</text><text x="572.05" y="92.73">48.80%</text><text x="630.50" y="92.73">6.11%</text><text x="436.60" y="99.39">11.74%</text><text x="468.45" y="99.39">18.18%</text><text x="539.60" y="99.39">48.66%</text><text x="614.20" y="99.39">21.42%</text><text x="446.60" y="106.05">21.14%</text><text x="493.50" y="106.05">22.92%</text><text x="563.75" y="106.05">43.07%</text><text x="623.30" y="106.05">12.87%</text><text x="456.55" y="112.71">30.48%</text><text x="513.55" y="112.71">23.06%</text><text x="577.15" y="112.71">36.68%</text><text x="626.60" y="112.71">9.77%</text><text x="434.75" y="119.37">10.00%</text><text x="455.00" y="119.37">9.02%</text><text x="543.05" y="119.37">73.70%</text><text x="629.25" y="119.37">7.28%</text><text x="455.95" y="126.03">29.92%</text><text x="510.55" y="126.03">21.37%</text><text x="562.75" y="126.03">27.67%</text><text x="614.60" y="126.03">21.04%</text><text x="451.00" y="132.70">25.27%</text><text x="507.35" y="132.70">27.67%</text><text x="579.95" y="132.70">40.54%</text><text x="630.05" y="132.70">6.53%</text><text x="438.05" y="139.36">13.10%</text><text x="475.20" y="139.36">21.79%</text><text x="558.35" y="139.36">56.32%</text><text x="627.65" y="139.36">8.78%</text><text x="440.55" y="146.02">15.45%</text><text x="482.45" y="146.02">23.91%</text><text x="561.80" y="146.02">50.63%</text><text x="626.35" y="146.02">10.00%</text><text x="448.90" y="152.68">23.30%</text><text x="503.10" y="152.68">27.62%</text><text x="574.80" y="152.68">39.74%</text><text x="627.05" y="152.68">9.35%</text><text x="447.55" y="159.34">22.03%</text><text x="495.50" y="159.34">23.02%</text><text x="568.40" y="159.34">45.47%</text><text x="626.90" y="159.34">9.49%</text><text x="451.05" y="166.00">25.32%</text><text x="507.50" y="166.00">27.71%</text><text x="571.60" y="166.00">32.50%</text><text x="621.60" y="166.00">14.47%</text><text x="444.75" y="172.67">19.40%</text><text x="487.80" y="172.67">21.04%</text><text x="551.20" y="172.67">38.52%</text><text x="614.60" y="172.67">21.04%</text><text x="456.35" y="179.33">30.30%</text><text x="515.85" y="179.33">25.60%</text><text x="574.10" y="179.33">29.12%</text><text x="621.05" y="179.33">14.98%</text><text x="436.45" y="185.99">11.60%</text><text x="473.85" y="185.99">23.53%</text><text x="549.40" y="185.99">47.44%</text><text x="618.45" y="185.99">17.43%</text><text x="465.45" y="192.65">38.84%</text><text x="536.05" y="192.65">27.48%</text><text x="593.30" y="192.65">26.30%</text><text x="629.15" y="192.65">7.37%</text></g>
<path d="M413.50 14.40 V195.35 H647.50" fill="none" stroke="#333" stroke-width="1.0"/>
<line x1="424.10" x2="424.10" y1="195.35" y2="196.95" stroke="#333" stroke-width="0.55"/>
<text transform="translate(424.10,201.60) scale(0.865,1)" text-anchor="middle" font-size="4.9" fill="#4d4d4d" font-family='"Liberation Sans", sans-serif'>0.00</text>
<line x1="477.33" x2="477.33" y1="195.35" y2="196.95" stroke="#333" stroke-width="0.55"/>
<text transform="translate(477.33,201.60) scale(0.865,1)" text-anchor="middle" font-size="4.9" fill="#4d4d4d" font-family='"Liberation Sans", sans-serif'>0.25</text>
<line x1="530.55" x2="530.55" y1="195.35" y2="196.95" stroke="#333" stroke-width="0.55"/>
<text transform="translate(530.55,201.60) scale(0.865,1)" text-anchor="middle" font-size="4.9" fill="#4d4d4d" font-family='"Liberation Sans", sans-serif'>0.50</text>
<line x1="583.77" x2="583.77" y1="195.35" y2="196.95" stroke="#333" stroke-width="0.55"/>
<text transform="translate(583.77,201.60) scale(0.865,1)" text-anchor="middle" font-size="4.9" fill="#4d4d4d" font-family='"Liberation Sans", sans-serif'>0.75</text>
<line x1="637.00" x2="637.00" y1="195.35" y2="196.95" stroke="#333" stroke-width="0.55"/>
<text transform="translate(637.00,201.60) scale(0.865,1)" text-anchor="middle" font-size="4.9" fill="#4d4d4d" font-family='"Liberation Sans", sans-serif'>1.00</text>
<text transform="translate(530.6,207.0) scale(0.815,1)" text-anchor="middle" font-size="6.0" font-weight="bold" fill="#000" font-family='"Liberation Sans", sans-serif'>case</text>
<text x="349.2" y="19.8" font-size="18.6" font-weight="bold" fill="#000" font-family='"Liberation Serif", serif'>B</text>
<text transform="translate(74.0,214.25) scale(0.875,1)" text-anchor="end" font-size="4.8" fill="#4d4d4d" font-family='"Liberation Sans", sans-serif'>Global</text>
<line x1="74.40" x2="76.00" y1="212.60" y2="212.60" stroke="#333" stroke-width="0.55"/>
<text transform="translate(74.0,220.92) scale(0.875,1)" text-anchor="end" font-size="4.8" fill="#4d4d4d" font-family='"Liberation Sans", sans-serif'>High SDI</text>
<line x1="74.40" x2="76.00" y1="219.27" y2="219.27" stroke="#333" stroke-width="0.55"/>
<text transform="translate(74.0,227.59) scale(0.875,1)" text-anchor="end" font-size="4.8" fill="#4d4d4d" font-family='"Liberation Sans", sans-serif'>High&#8722;middle SDI</text>
<line x1="74.40" x2="76.00" y1="225.94" y2="225.94" stroke="#333" stroke-width="0.55"/>
<text transform="translate(74.0,234.26) scale(0.875,1)" text-anchor="end" font-size="4.8" fill="#4d4d4d" font-family='"Liberation Sans", sans-serif'>Middle SDI</text>
<line x1="74.40" x2="76.00" y1="232.61" y2="232.61" stroke="#333" stroke-width="0.55"/>
<text transform="translate(74.0,240.93) scale(0.875,1)" text-anchor="end" font-size="4.8" fill="#4d4d4d" font-family='"Liberation Sans", sans-serif'>Low&#8722;middle SDI</text>
<line x1="74.40" x2="76.00" y1="239.28" y2="239.28" stroke="#333" stroke-width="0.55"/>
<text transform="translate(74.0,247.60) scale(0.875,1)" text-anchor="end" font-size="4.8" fill="#4d4d4d" font-family='"Liberation Sans", sans-serif'>Low SDI</text>
<line x1="74.40" x2="76.00" y1="245.95" y2="245.95" stroke="#333" stroke-width="0.55"/>
<text transform="translate(74.0,254.27) scale(0.875,1)" text-anchor="end" font-size="4.8" fill="#4d4d4d" font-family='"Liberation Sans", sans-serif'>Western Sub&#8722;Saharan Africa</text>
<line x1="74.40" x2="76.00" y1="252.62" y2="252.62" stroke="#333" stroke-width="0.55"/>
<text transform="translate(74.0,260.93) scale(0.875,1)" text-anchor="end" font-size="4.8" fill="#4d4d4d" font-family='"Liberation Sans", sans-serif'>Southern Sub&#8722;Saharan Africa</text>
<line x1="74.40" x2="76.00" y1="259.28" y2="259.28" stroke="#333" stroke-width="0.55"/>
<text transform="translate(74.0,267.60) scale(0.875,1)" text-anchor="end" font-size="4.8" fill="#4d4d4d" font-family='"Liberation Sans", sans-serif'>Eastern Sub&#8722;Saharan Africa</text>
<line x1="74.40" x2="76.00" y1="265.95" y2="265.95" stroke="#333" stroke-width="0.55"/>
<text transform="translate(74.0,274.27) scale(0.875,1)" text-anchor="end" font-size="4.8" fill="#4d4d4d" font-family='"Liberation Sans", sans-serif'>Central Sub&#8722;Saharan Africa</text>
<line x1="74.40" x2="76.00" y1="272.62" y2="272.62" stroke="#333" stroke-width="0.55"/>
<text transform="translate(74.0,280.94) scale(0.875,1)" text-anchor="end" font-size="4.8" fill="#4d4d4d" font-family='"Liberation Sans", sans-serif'>Oceania</text>
<line x1="74.40" x2="76.00" y1="279.29" y2="279.29" stroke="#333" stroke-width="0.55"/>
<text transform="translate(74.0,287.61) scale(0.875,1)" text-anchor="end" font-size="4.8" fill="#4d4d4d" font-family='"Liberation Sans", sans-serif'>High&#8722;income North America</text>
<line x1="74.40" x2="76.00" y1="285.96" y2="285.96" stroke="#333" stroke-width="0.55"/>
<text transform="translate(74.0,294.28) scale(0.875,1)" text-anchor="end" font-size="4.8" fill="#4d4d4d" font-family='"Liberation Sans", sans-serif'>North Africa and Middle East</text>
<line x1="74.40" x2="76.00" y1="292.63" y2="292.63" stroke="#333" stroke-width="0.55"/>
<text transform="translate(74.0,300.95) scale(0.875,1)" text-anchor="end" font-size="4.8" fill="#4d4d4d" font-family='"Liberation Sans", sans-serif'>Tropical Latin America</text>
<line x1="74.40" x2="76.00" y1="299.30" y2="299.30" stroke="#333" stroke-width="0.55"/>
<text transform="translate(74.0,307.62) scale(0.875,1)" text-anchor="end" font-size="4.8" fill="#4d4d4d" font-family='"Liberation Sans", sans-serif'>Southern Latin America</text>
<line x1="74.40" x2="76.00" y1="305.97" y2="305.97" stroke="#333" stroke-width="0.55"/>
<text transform="translate(74.0,314.29) scale(0.875,1)" text-anchor="end" font-size="4.8" fill="#4d4d4d" font-family='"Liberation Sans", sans-serif'>Central Latin America</text>
<line x1="74.40" x2="76.00" y1="312.64" y2="312.64" stroke="#333" stroke-width="0.55"/>
<text transform="translate(74.0,320.96) scale(0.875,1)" text-anchor="end" font-size="4.8" fill="#4d4d4d" font-family='"Liberation Sans", sans-serif'>Andean Latin America</text>
<line x1="74.40" x2="76.00" y1="319.31" y2="319.31" stroke="#333" stroke-width="0.55"/>
<text transform="translate(74.0,327.63) scale(0.875,1)" text-anchor="end" font-size="4.8" fill="#4d4d4d" font-family='"Liberation Sans", sans-serif'>Western Europe</text>
<line x1="74.40" x2="76.00" y1="325.98" y2="325.98" stroke="#333" stroke-width="0.55"/>
<text transform="translate(74.0,334.30) scale(0.875,1)" text-anchor="end" font-size="4.8" fill="#4d4d4d" font-family='"Liberation Sans", sans-serif'>Eastern Europe</text>
<line x1="74.40" x2="76.00" y1="332.65" y2="332.65" stroke="#333" stroke-width="0.55"/>
<text transform="translate(74.0,340.97) scale(0.875,1)" text-anchor="end" font-size="4.8" fill="#4d4d4d" font-family='"Liberation Sans", sans-serif'>Central Europe</text>
<line x1="74.40" x2="76.00" y1="339.32" y2="339.32" stroke="#333" stroke-width="0.55"/>
<text transform="translate(74.0,347.63) scale(0.875,1)" text-anchor="end" font-size="4.8" fill="#4d4d4d" font-family='"Liberation Sans", sans-serif'>Caribbean</text>
<line x1="74.40" x2="76.00" y1="345.98" y2="345.98" stroke="#333" stroke-width="0.55"/>
<text transform="translate(74.0,354.30) scale(0.875,1)" text-anchor="end" font-size="4.8" fill="#4d4d4d" font-family='"Liberation Sans", sans-serif'>Australasia</text>
<line x1="74.40" x2="76.00" y1="352.65" y2="352.65" stroke="#333" stroke-width="0.55"/>
<text transform="translate(74.0,360.97) scale(0.875,1)" text-anchor="end" font-size="4.8" fill="#4d4d4d" font-family='"Liberation Sans", sans-serif'>Southeast Asia</text>
<line x1="74.40" x2="76.00" y1="359.32" y2="359.32" stroke="#333" stroke-width="0.55"/>
<text transform="translate(74.0,367.64) scale(0.875,1)" text-anchor="end" font-size="4.8" fill="#4d4d4d" font-family='"Liberation Sans", sans-serif'>South Asia</text>
<line x1="74.40" x2="76.00" y1="365.99" y2="365.99" stroke="#333" stroke-width="0.55"/>
<text transform="translate(74.0,374.31) scale(0.875,1)" text-anchor="end" font-size="4.8" fill="#4d4d4d" font-family='"Liberation Sans", sans-serif'>East Asia</text>
<line x1="74.40" x2="76.00" y1="372.66" y2="372.66" stroke="#333" stroke-width="0.55"/>
<text transform="translate(74.0,380.98) scale(0.875,1)" text-anchor="end" font-size="4.8" fill="#4d4d4d" font-family='"Liberation Sans", sans-serif'>Central Asia</text>
<line x1="74.40" x2="76.00" y1="379.33" y2="379.33" stroke="#333" stroke-width="0.55"/>
<text transform="translate(74.0,387.65) scale(0.875,1)" text-anchor="end" font-size="4.8" fill="#4d4d4d" font-family='"Liberation Sans", sans-serif'>High&#8722;income Asia Pacific</text>
<line x1="74.40" x2="76.00" y1="386.00" y2="386.00" stroke="#333" stroke-width="0.55"/>
<rect x="86.90" y="210.30" width="66.80" height="4.6" fill="#C77CFF"/>
<rect x="153.70" y="210.30" width="48.20" height="4.6" fill="#00BFC4"/>
<rect x="201.90" y="210.30" width="56.20" height="4.6" fill="#7CAE00"/>
<rect x="258.10" y="210.30" width="41.00" height="4.6" fill="#F8766D"/>
<rect x="86.90" y="216.97" width="107.40" height="4.6" fill="#C77CFF"/>
<rect x="194.30" y="216.97" width="50.90" height="4.6" fill="#00BFC4"/>
<rect x="245.20" y="216.97" width="47.10" height="4.6" fill="#7CAE00"/>
<rect x="292.30" y="216.97" width="6.80" height="4.6" fill="#F8766D"/>
<rect x="86.90" y="223.64" width="75.80" height="4.6" fill="#C77CFF"/>
<rect x="162.70" y="223.64" width="56.40" height="4.6" fill="#00BFC4"/>
<rect x="219.10" y="223.64" width="56.20" height="4.6" fill="#7CAE00"/>
<rect x="275.30" y="223.64" width="23.80" height="4.6" fill="#F8766D"/>
<rect x="86.90" y="230.31" width="65.00" height="4.6" fill="#C77CFF"/>
<rect x="151.90" y="230.31" width="49.30" height="4.6" fill="#00BFC4"/>
<rect x="201.20" y="230.31" width="54.00" height="4.6" fill="#7CAE00"/>
<rect x="255.20" y="230.31" width="43.90" height="4.6" fill="#F8766D"/>
<rect x="86.90" y="236.98" width="47.40" height="4.6" fill="#C77CFF"/>
<rect x="134.30" y="236.98" width="42.40" height="4.6" fill="#00BFC4"/>
<rect x="176.70" y="236.98" width="61.30" height="4.6" fill="#7CAE00"/>
<rect x="238.00" y="236.98" width="61.10" height="4.6" fill="#F8766D"/>
<rect x="86.90" y="243.65" width="41.60" height="4.6" fill="#C77CFF"/>
<rect x="128.50" y="243.65" width="42.40" height="4.6" fill="#00BFC4"/>
<rect x="170.90" y="243.65" width="62.10" height="4.6" fill="#7CAE00"/>
<rect x="233.00" y="243.65" width="66.10" height="4.6" fill="#F8766D"/>
<rect x="86.90" y="250.32" width="46.60" height="4.6" fill="#C77CFF"/>
<rect x="133.50" y="250.32" width="33.80" height="4.6" fill="#00BFC4"/>
<rect x="167.30" y="250.32" width="55.90" height="4.6" fill="#7CAE00"/>
<rect x="223.20" y="250.32" width="75.90" height="4.6" fill="#F8766D"/>
<rect x="86.90" y="256.98" width="56.20" height="4.6" fill="#C77CFF"/>
<rect x="143.10" y="256.98" width="57.80" height="4.6" fill="#00BFC4"/>
<rect x="200.90" y="256.98" width="69.90" height="4.6" fill="#7CAE00"/>
<rect x="270.80" y="256.98" width="28.30" height="4.6" fill="#F8766D"/>
<rect x="86.90" y="263.65" width="34.20" height="4.6" fill="#C77CFF"/>
<rect x="121.10" y="263.65" width="38.50" height="4.6" fill="#00BFC4"/>
<rect x="159.60" y="263.65" width="67.70" height="4.6" fill="#7CAE00"/>
<rect x="227.30" y="263.65" width="71.80" height="4.6" fill="#F8766D"/>
<rect x="86.90" y="270.32" width="52.50" height="4.6" fill="#C77CFF"/>
<rect x="139.40" y="270.32" width="50.90" height="4.6" fill="#00BFC4"/>
<rect x="190.30" y="270.32" width="65.70" height="4.6" fill="#7CAE00"/>
<rect x="256.00" y="270.32" width="43.10" height="4.6" fill="#F8766D"/>
<rect x="86.90" y="276.99" width="7.90" height="4.6" fill="#C77CFF"/>
<rect x="94.80" y="276.99" width="13.60" height="4.6" fill="#00BFC4"/>
<rect x="108.40" y="276.99" width="184.50" height="4.6" fill="#7CAE00"/>
<rect x="292.90" y="276.99" width="6.20" height="4.6" fill="#F8766D"/>
<rect x="86.90" y="283.66" width="106.00" height="4.6" fill="#C77CFF"/>
<rect x="192.90" y="283.66" width="42.20" height="4.6" fill="#00BFC4"/>
<rect x="235.10" y="283.66" width="57.80" height="4.6" fill="#7CAE00"/>
<rect x="292.90" y="283.66" width="6.20" height="4.6" fill="#F8766D"/>
<rect x="86.90" y="290.33" width="53.90" height="4.6" fill="#C77CFF"/>
<rect x="140.80" y="290.33" width="44.50" height="4.6" fill="#00BFC4"/>
<rect x="185.30" y="290.33" width="63.80" height="4.6" fill="#7CAE00"/>
<rect x="249.10" y="290.33" width="50.00" height="4.6" fill="#F8766D"/>
<rect x="86.90" y="297.00" width="65.20" height="4.6" fill="#C77CFF"/>
<rect x="152.10" y="297.00" width="58.50" height="4.6" fill="#00BFC4"/>
<rect x="210.60" y="297.00" width="59.40" height="4.6" fill="#7CAE00"/>
<rect x="270.00" y="297.00" width="29.10" height="4.6" fill="#F8766D"/>
<rect x="86.90" y="303.67" width="104.00" height="4.6" fill="#C77CFF"/>
<rect x="190.90" y="303.67" width="55.60" height="4.6" fill="#00BFC4"/>
<rect x="246.50" y="303.67" width="40.20" height="4.6" fill="#7CAE00"/>
<rect x="286.70" y="303.67" width="12.40" height="4.6" fill="#F8766D"/>
<rect x="86.90" y="310.34" width="73.10" height="4.6" fill="#C77CFF"/>
<rect x="160.00" y="310.34" width="46.40" height="4.6" fill="#00BFC4"/>
<rect x="206.40" y="310.34" width="47.80" height="4.6" fill="#7CAE00"/>
<rect x="254.20" y="310.34" width="44.90" height="4.6" fill="#F8766D"/>
<rect x="86.90" y="317.01" width="66.50" height="4.6" fill="#C77CFF"/>
<rect x="153.40" y="317.01" width="44.30" height="4.6" fill="#00BFC4"/>
<rect x="197.70" y="317.01" width="47.70" height="4.6" fill="#7CAE00"/>
<rect x="245.40" y="317.01" width="53.70" height="4.6" fill="#F8766D"/>
<rect x="86.90" y="323.68" width="115.80" height="4.6" fill="#C77CFF"/>
<rect x="202.70" y="323.68" width="49.90" height="4.6" fill="#00BFC4"/>
<rect x="252.60" y="323.68" width="40.70" height="4.6" fill="#7CAE00"/>
<rect x="293.30" y="323.68" width="5.80" height="4.6" fill="#F8766D"/>
<rect x="86.90" y="330.35" width="68.10" height="4.6" fill="#C77CFF"/>
<rect x="155.00" y="330.35" width="62.30" height="4.6" fill="#00BFC4"/>
<rect x="217.30" y="330.35" width="67.40" height="4.6" fill="#7CAE00"/>
<rect x="284.70" y="330.35" width="14.40" height="4.6" fill="#F8766D"/>
<rect x="86.90" y="337.02" width="90.20" height="4.6" fill="#C77CFF"/>
<rect x="177.10" y="337.02" width="64.30" height="4.6" fill="#00BFC4"/>
<rect x="241.40" y="337.02" width="47.80" height="4.6" fill="#7CAE00"/>
<rect x="289.20" y="337.02" width="9.90" height="4.6" fill="#F8766D"/>
<rect x="86.90" y="343.68" width="76.80" height="4.6" fill="#C77CFF"/>
<rect x="163.70" y="343.68" width="52.50" height="4.6" fill="#00BFC4"/>
<rect x="216.20" y="343.68" width="59.10" height="4.6" fill="#7CAE00"/>
<rect x="275.30" y="343.68" width="23.80" height="4.6" fill="#F8766D"/>
<rect x="86.90" y="350.35" width="117.60" height="4.6" fill="#C77CFF"/>
<rect x="204.50" y="350.35" width="42.20" height="4.6" fill="#00BFC4"/>
<rect x="246.70" y="350.35" width="44.00" height="4.6" fill="#7CAE00"/>
<rect x="290.70" y="350.35" width="8.40" height="4.6" fill="#F8766D"/>
<rect x="86.90" y="357.02" width="59.60" height="4.6" fill="#C77CFF"/>
<rect x="146.50" y="357.02" width="56.50" height="4.6" fill="#00BFC4"/>
<rect x="203.00" y="357.02" width="60.20" height="4.6" fill="#7CAE00"/>
<rect x="263.20" y="357.02" width="35.90" height="4.6" fill="#F8766D"/>
<rect x="86.90" y="363.69" width="43.00" height="4.6" fill="#C77CFF"/>
<rect x="129.90" y="363.69" width="43.40" height="4.6" fill="#00BFC4"/>
<rect x="173.30" y="363.69" width="63.60" height="4.6" fill="#7CAE00"/>
<rect x="236.90" y="363.69" width="62.20" height="4.6" fill="#F8766D"/>
<rect x="86.90" y="370.36" width="78.00" height="4.6" fill="#C77CFF"/>
<rect x="164.90" y="370.36" width="49.70" height="4.6" fill="#00BFC4"/>
<rect x="214.60" y="370.36" width="45.40" height="4.6" fill="#7CAE00"/>
<rect x="260.00" y="370.36" width="39.10" height="4.6" fill="#F8766D"/>
<rect x="86.90" y="377.03" width="59.70" height="4.6" fill="#C77CFF"/>
<rect x="146.60" y="377.03" width="59.50" height="4.6" fill="#00BFC4"/>
<rect x="206.10" y="377.03" width="65.20" height="4.6" fill="#7CAE00"/>
<rect x="271.30" y="377.03" width="27.80" height="4.6" fill="#F8766D"/>
<rect x="86.90" y="383.70" width="114.30" height="4.6" fill="#C77CFF"/>
<rect x="201.20" y="383.70" width="59.90" height="4.6" fill="#00BFC4"/>
<rect x="261.10" y="383.70" width="29.10" height="4.6" fill="#7CAE00"/>
<rect x="290.20" y="383.70" width="8.90" height="4.6" fill="#F8766D"/>
<g font-size="3.0" font-weight="bold" text-anchor="middle" fill="#000" font-family='"Liberation Sans", sans-serif'><text x="120.30" y="213.65">31.48%</text><text x="177.80" y="213.65">22.71%</text><text x="230.00" y="213.65">26.48%</text><text x="278.60" y="213.65">19.32%</text><text x="140.60" y="220.32">50.61%</text><text x="219.75" y="220.32">23.99%</text><text x="268.75" y="220.32">22.20%</text><text x="295.70" y="220.32">3.20%</text><text x="124.80" y="226.99">35.72%</text><text x="190.90" y="226.99">26.58%</text><text x="247.20" y="226.99">26.48%</text><text x="287.20" y="226.99">11.22%</text><text x="119.40" y="233.66">30.63%</text><text x="176.55" y="233.66">23.23%</text><text x="228.20" y="233.66">25.45%</text><text x="277.15" y="233.66">20.69%</text><text x="110.60" y="240.33">22.34%</text><text x="155.50" y="240.33">19.98%</text><text x="207.35" y="240.33">28.89%</text><text x="268.55" y="240.33">28.79%</text><text x="107.70" y="247.00">19.60%</text><text x="149.70" y="247.00">19.98%</text><text x="201.95" y="247.00">29.26%</text><text x="266.05" y="247.00">31.15%</text><text x="110.20" y="253.67">21.96%</text><text x="150.40" y="253.67">15.93%</text><text x="195.25" y="253.67">26.34%</text><text x="261.15" y="253.67">35.77%</text><text x="115.00" y="260.33">26.48%</text><text x="172.00" y="260.33">27.24%</text><text x="235.85" y="260.33">32.94%</text><text x="284.95" y="260.33">13.34%</text><text x="104.00" y="267.00">16.12%</text><text x="140.35" y="267.00">18.14%</text><text x="193.45" y="267.00">31.90%</text><text x="263.20" y="267.00">33.84%</text><text x="113.15" y="273.67">24.74%</text><text x="164.85" y="273.67">23.99%</text><text x="223.15" y="273.67">30.96%</text><text x="277.55" y="273.67">20.31%</text><text x="90.85" y="280.34">3.72%</text><text x="101.60" y="280.34">6.41%</text><text x="200.65" y="280.34">86.95%</text><text x="296.00" y="280.34">2.92%</text><text x="139.90" y="287.01">49.95%</text><text x="214.00" y="287.01">19.89%</text><text x="264.00" y="287.01">27.24%</text><text x="296.00" y="287.01">2.92%</text><text x="113.85" y="293.68">25.40%</text><text x="163.05" y="293.68">20.97%</text><text x="217.20" y="293.68">30.07%</text><text x="274.10" y="293.68">23.56%</text><text x="119.50" y="300.35">30.73%</text><text x="181.35" y="300.35">27.57%</text><text x="240.30" y="300.35">27.99%</text><text x="284.55" y="300.35">13.71%</text><text x="138.90" y="307.02">49.01%</text><text x="218.70" y="307.02">26.20%</text><text x="266.60" y="307.02">18.94%</text><text x="292.90" y="307.02">5.84%</text><text x="123.45" y="313.69">34.45%</text><text x="183.20" y="313.69">21.87%</text><text x="230.30" y="313.69">22.53%</text><text x="276.65" y="313.69">21.16%</text><text x="120.15" y="320.36">31.34%</text><text x="175.55" y="320.36">20.88%</text><text x="221.55" y="320.36">22.48%</text><text x="272.25" y="320.36">25.31%</text><text x="144.80" y="327.03">54.57%</text><text x="227.65" y="327.03">23.52%</text><text x="272.95" y="327.03">19.18%</text><text x="296.20" y="327.03">2.73%</text><text x="120.95" y="333.70">32.09%</text><text x="186.15" y="333.70">29.36%</text><text x="251.00" y="333.70">31.76%</text><text x="291.90" y="333.70">6.79%</text><text x="132.00" y="340.37">42.51%</text><text x="209.25" y="340.37">30.30%</text><text x="265.30" y="340.37">22.53%</text><text x="294.15" y="340.37">4.67%</text><text x="125.30" y="347.03">36.19%</text><text x="189.95" y="347.03">24.74%</text><text x="245.75" y="347.03">27.85%</text><text x="287.20" y="347.03">11.22%</text><text x="145.70" y="353.70">55.42%</text><text x="225.60" y="353.70">19.89%</text><text x="268.70" y="353.70">20.74%</text><text x="294.90" y="353.70">3.96%</text><text x="116.70" y="360.37">28.09%</text><text x="174.75" y="360.37">26.63%</text><text x="233.10" y="360.37">28.37%</text><text x="281.15" y="360.37">16.92%</text><text x="108.40" y="367.04">20.26%</text><text x="151.60" y="367.04">20.45%</text><text x="205.10" y="367.04">29.97%</text><text x="268.00" y="367.04">29.31%</text><text x="125.90" y="373.71">36.76%</text><text x="189.75" y="373.71">23.42%</text><text x="237.30" y="373.71">21.39%</text><text x="279.55" y="373.71">18.43%</text><text x="116.75" y="380.38">28.13%</text><text x="176.35" y="380.38">28.04%</text><text x="238.70" y="380.38">30.73%</text><text x="285.20" y="380.38">13.10%</text><text x="144.05" y="387.05">53.86%</text><text x="231.15" y="387.05">28.23%</text><text x="275.65" y="387.05">13.71%</text><text x="294.65" y="387.05">4.19%</text></g>
<path d="M76.00 209.10 V390.00 H310.00" fill="none" stroke="#333" stroke-width="1.0"/>
<line x1="86.90" x2="86.90" y1="390.00" y2="391.60" stroke="#333" stroke-width="0.55"/>
<text transform="translate(86.90,395.65) scale(0.865,1)" text-anchor="middle" font-size="4.9" fill="#4d4d4d" font-family='"Liberation Sans", sans-serif'>0.00</text>
<line x1="139.95" x2="139.95" y1="390.00" y2="391.60" stroke="#333" stroke-width="0.55"/>
<text transform="translate(139.95,395.65) scale(0.865,1)" text-anchor="middle" font-size="4.9" fill="#4d4d4d" font-family='"Liberation Sans", sans-serif'>0.25</text>
<line x1="193.00" x2="193.00" y1="390.00" y2="391.60" stroke="#333" stroke-width="0.55"/>
<text transform="translate(193.00,395.65) scale(0.865,1)" text-anchor="middle" font-size="4.9" fill="#4d4d4d" font-family='"Liberation Sans", sans-serif'>0.50</text>
<line x1="246.05" x2="246.05" y1="390.00" y2="391.60" stroke="#333" stroke-width="0.55"/>
<text transform="translate(246.05,395.65) scale(0.865,1)" text-anchor="middle" font-size="4.9" fill="#4d4d4d" font-family='"Liberation Sans", sans-serif'>0.75</text>
<line x1="299.10" x2="299.10" y1="390.00" y2="391.60" stroke="#333" stroke-width="0.55"/>
<text transform="translate(299.10,395.65) scale(0.865,1)" text-anchor="middle" font-size="4.9" fill="#4d4d4d" font-family='"Liberation Sans", sans-serif'>1.00</text>
<text transform="translate(192.9,401.7) scale(0.815,1)" text-anchor="middle" font-size="6.0" font-weight="bold" fill="#000" font-family='"Liberation Sans", sans-serif'>deaths case</text>
<text x="4.4" y="218.0" font-size="18.6" font-weight="bold" fill="#000" font-family='"Liberation Serif", serif'>C</text>
<text transform="translate(411.1,215.25) scale(0.875,1)" text-anchor="end" font-size="4.8" fill="#4d4d4d" font-family='"Liberation Sans", sans-serif'>Global</text>
<line x1="411.90" x2="413.50" y1="213.60" y2="213.60" stroke="#333" stroke-width="0.55"/>
<text transform="translate(411.1,221.90) scale(0.875,1)" text-anchor="end" font-size="4.8" fill="#4d4d4d" font-family='"Liberation Sans", sans-serif'>High SDI</text>
<line x1="411.90" x2="413.50" y1="220.25" y2="220.25" stroke="#333" stroke-width="0.55"/>
<text transform="translate(411.1,228.55) scale(0.875,1)" text-anchor="end" font-size="4.8" fill="#4d4d4d" font-family='"Liberation Sans", sans-serif'>High&#8722;middle SDI</text>
<line x1="411.90" x2="413.50" y1="226.90" y2="226.90" stroke="#333" stroke-width="0.55"/>
<text transform="translate(411.1,235.20) scale(0.875,1)" text-anchor="end" font-size="4.8" fill="#4d4d4d" font-family='"Liberation Sans", sans-serif'>Middle SDI</text>
<line x1="411.90" x2="413.50" y1="233.55" y2="233.55" stroke="#333" stroke-width="0.55"/>
<text transform="translate(411.1,241.85) scale(0.875,1)" text-anchor="end" font-size="4.8" fill="#4d4d4d" font-family='"Liberation Sans", sans-serif'>Low&#8722;middle SDI</text>
<line x1="411.90" x2="413.50" y1="240.20" y2="240.20" stroke="#333" stroke-width="0.55"/>
<text transform="translate(411.1,248.50) scale(0.875,1)" text-anchor="end" font-size="4.8" fill="#4d4d4d" font-family='"Liberation Sans", sans-serif'>Low SDI</text>
<line x1="411.90" x2="413.50" y1="246.85" y2="246.85" stroke="#333" stroke-width="0.55"/>
<text transform="translate(411.1,255.15) scale(0.875,1)" text-anchor="end" font-size="4.8" fill="#4d4d4d" font-family='"Liberation Sans", sans-serif'>Western Sub&#8722;Saharan Africa</text>
<line x1="411.90" x2="413.50" y1="253.50" y2="253.50" stroke="#333" stroke-width="0.55"/>
<text transform="translate(411.1,261.80) scale(0.875,1)" text-anchor="end" font-size="4.8" fill="#4d4d4d" font-family='"Liberation Sans", sans-serif'>Southern Sub&#8722;Saharan Africa</text>
<line x1="411.90" x2="413.50" y1="260.15" y2="260.15" stroke="#333" stroke-width="0.55"/>
<text transform="translate(411.1,268.45) scale(0.875,1)" text-anchor="end" font-size="4.8" fill="#4d4d4d" font-family='"Liberation Sans", sans-serif'>Eastern Sub&#8722;Saharan Africa</text>
<line x1="411.90" x2="413.50" y1="266.80" y2="266.80" stroke="#333" stroke-width="0.55"/>
<text transform="translate(411.1,275.10) scale(0.875,1)" text-anchor="end" font-size="4.8" fill="#4d4d4d" font-family='"Liberation Sans", sans-serif'>Central Sub&#8722;Saharan Africa</text>
<line x1="411.90" x2="413.50" y1="273.45" y2="273.45" stroke="#333" stroke-width="0.55"/>
<text transform="translate(411.1,281.75) scale(0.875,1)" text-anchor="end" font-size="4.8" fill="#4d4d4d" font-family='"Liberation Sans", sans-serif'>Oceania</text>
<line x1="411.90" x2="413.50" y1="280.10" y2="280.10" stroke="#333" stroke-width="0.55"/>
<text transform="translate(411.1,288.40) scale(0.875,1)" text-anchor="end" font-size="4.8" fill="#4d4d4d" font-family='"Liberation Sans", sans-serif'>High&#8722;income North America</text>
<line x1="411.90" x2="413.50" y1="286.75" y2="286.75" stroke="#333" stroke-width="0.55"/>
<text transform="translate(411.1,295.05) scale(0.875,1)" text-anchor="end" font-size="4.8" fill="#4d4d4d" font-family='"Liberation Sans", sans-serif'>North Africa and Middle East</text>
<line x1="411.90" x2="413.50" y1="293.40" y2="293.40" stroke="#333" stroke-width="0.55"/>
<text transform="translate(411.1,301.70) scale(0.875,1)" text-anchor="end" font-size="4.8" fill="#4d4d4d" font-family='"Liberation Sans", sans-serif'>Tropical Latin America</text>
<line x1="411.90" x2="413.50" y1="300.05" y2="300.05" stroke="#333" stroke-width="0.55"/>
<text transform="translate(411.1,308.35) scale(0.875,1)" text-anchor="end" font-size="4.8" fill="#4d4d4d" font-family='"Liberation Sans", sans-serif'>Southern Latin America</text>
<line x1="411.90" x2="413.50" y1="306.70" y2="306.70" stroke="#333" stroke-width="0.55"/>
<text transform="translate(411.1,315.00) scale(0.875,1)" text-anchor="end" font-size="4.8" fill="#4d4d4d" font-family='"Liberation Sans", sans-serif'>Central Latin America</text>
<line x1="411.90" x2="413.50" y1="313.35" y2="313.35" stroke="#333" stroke-width="0.55"/>
<text transform="translate(411.1,321.65) scale(0.875,1)" text-anchor="end" font-size="4.8" fill="#4d4d4d" font-family='"Liberation Sans", sans-serif'>Andean Latin America</text>
<line x1="411.90" x2="413.50" y1="320.00" y2="320.00" stroke="#333" stroke-width="0.55"/>
<text transform="translate(411.1,328.30) scale(0.875,1)" text-anchor="end" font-size="4.8" fill="#4d4d4d" font-family='"Liberation Sans", sans-serif'>Western Europe</text>
<line x1="411.90" x2="413.50" y1="326.65" y2="326.65" stroke="#333" stroke-width="0.55"/>
<text transform="translate(411.1,334.95) scale(0.875,1)" text-anchor="end" font-size="4.8" fill="#4d4d4d" font-family='"Liberation Sans", sans-serif'>Eastern Europe</text>
<line x1="411.90" x2="413.50" y1="333.30" y2="333.30" stroke="#333" stroke-width="0.55"/>
<text transform="translate(411.1,341.60) scale(0.875,1)" text-anchor="end" font-size="4.8" fill="#4d4d4d" font-family='"Liberation Sans", sans-serif'>Central Europe</text>
<line x1="411.90" x2="413.50" y1="339.95" y2="339.95" stroke="#333" stroke-width="0.55"/>
<text transform="translate(411.1,348.25) scale(0.875,1)" text-anchor="end" font-size="4.8" fill="#4d4d4d" font-family='"Liberation Sans", sans-serif'>Caribbean</text>
<line x1="411.90" x2="413.50" y1="346.60" y2="346.60" stroke="#333" stroke-width="0.55"/>
<text transform="translate(411.1,354.90) scale(0.875,1)" text-anchor="end" font-size="4.8" fill="#4d4d4d" font-family='"Liberation Sans", sans-serif'>Australasia</text>
<line x1="411.90" x2="413.50" y1="353.25" y2="353.25" stroke="#333" stroke-width="0.55"/>
<text transform="translate(411.1,361.55) scale(0.875,1)" text-anchor="end" font-size="4.8" fill="#4d4d4d" font-family='"Liberation Sans", sans-serif'>Southeast Asia</text>
<line x1="411.90" x2="413.50" y1="359.90" y2="359.90" stroke="#333" stroke-width="0.55"/>
<text transform="translate(411.1,368.20) scale(0.875,1)" text-anchor="end" font-size="4.8" fill="#4d4d4d" font-family='"Liberation Sans", sans-serif'>South Asia</text>
<line x1="411.90" x2="413.50" y1="366.55" y2="366.55" stroke="#333" stroke-width="0.55"/>
<text transform="translate(411.1,374.85) scale(0.875,1)" text-anchor="end" font-size="4.8" fill="#4d4d4d" font-family='"Liberation Sans", sans-serif'>East Asia</text>
<line x1="411.90" x2="413.50" y1="373.20" y2="373.20" stroke="#333" stroke-width="0.55"/>
<text transform="translate(411.1,381.50) scale(0.875,1)" text-anchor="end" font-size="4.8" fill="#4d4d4d" font-family='"Liberation Sans", sans-serif'>Central Asia</text>
<line x1="411.90" x2="413.50" y1="379.85" y2="379.85" stroke="#333" stroke-width="0.55"/>
<text transform="translate(411.1,388.15) scale(0.875,1)" text-anchor="end" font-size="4.8" fill="#4d4d4d" font-family='"Liberation Sans", sans-serif'>High&#8722;income Asia Pacific</text>
<line x1="411.90" x2="413.50" y1="386.50" y2="386.50" stroke="#333" stroke-width="0.55"/>
<rect x="424.10" y="211.30" width="80.10" height="4.6" fill="#C77CFF"/>
<rect x="504.20" y="211.30" width="51.90" height="4.6" fill="#00BFC4"/>
<rect x="556.10" y="211.30" width="51.10" height="4.6" fill="#7CAE00"/>
<rect x="607.20" y="211.30" width="29.80" height="4.6" fill="#F8766D"/>
<rect x="424.10" y="217.95" width="136.30" height="4.6" fill="#C77CFF"/>
<rect x="560.40" y="217.95" width="45.60" height="4.6" fill="#00BFC4"/>
<rect x="606.00" y="217.95" width="27.20" height="4.6" fill="#7CAE00"/>
<rect x="633.20" y="217.95" width="3.80" height="4.6" fill="#F8766D"/>
<rect x="424.10" y="224.60" width="97.60" height="4.6" fill="#C77CFF"/>
<rect x="521.70" y="224.60" width="59.50" height="4.6" fill="#00BFC4"/>
<rect x="581.20" y="224.60" width="45.70" height="4.6" fill="#7CAE00"/>
<rect x="626.90" y="224.60" width="10.10" height="4.6" fill="#F8766D"/>
<rect x="424.10" y="231.25" width="94.30" height="4.6" fill="#C77CFF"/>
<rect x="518.40" y="231.25" width="60.70" height="4.6" fill="#00BFC4"/>
<rect x="579.10" y="231.25" width="41.90" height="4.6" fill="#7CAE00"/>
<rect x="621.00" y="231.25" width="16.00" height="4.6" fill="#F8766D"/>
<rect x="424.10" y="237.90" width="53.00" height="4.6" fill="#C77CFF"/>
<rect x="477.10" y="237.90" width="47.40" height="4.6" fill="#00BFC4"/>
<rect x="524.50" y="237.90" width="63.10" height="4.6" fill="#7CAE00"/>
<rect x="587.60" y="237.90" width="49.40" height="4.6" fill="#F8766D"/>
<rect x="424.10" y="244.55" width="51.10" height="4.6" fill="#C77CFF"/>
<rect x="475.20" y="244.55" width="48.30" height="4.6" fill="#00BFC4"/>
<rect x="523.50" y="244.55" width="65.00" height="4.6" fill="#7CAE00"/>
<rect x="588.50" y="244.55" width="48.50" height="4.6" fill="#F8766D"/>
<rect x="424.10" y="251.20" width="40.90" height="4.6" fill="#C77CFF"/>
<rect x="465.00" y="251.20" width="38.10" height="4.6" fill="#00BFC4"/>
<rect x="503.10" y="251.20" width="58.30" height="4.6" fill="#7CAE00"/>
<rect x="561.40" y="251.20" width="75.60" height="4.6" fill="#F8766D"/>
<rect x="424.10" y="257.85" width="65.00" height="4.6" fill="#C77CFF"/>
<rect x="489.10" y="257.85" width="64.90" height="4.6" fill="#00BFC4"/>
<rect x="554.00" y="257.85" width="60.70" height="4.6" fill="#7CAE00"/>
<rect x="614.70" y="257.85" width="22.30" height="4.6" fill="#F8766D"/>
<rect x="424.10" y="264.50" width="36.90" height="4.6" fill="#C77CFF"/>
<rect x="461.00" y="264.50" width="40.20" height="4.6" fill="#00BFC4"/>
<rect x="501.20" y="264.50" width="71.30" height="4.6" fill="#7CAE00"/>
<rect x="572.50" y="264.50" width="64.50" height="4.6" fill="#F8766D"/>
<rect x="424.10" y="271.15" width="53.00" height="4.6" fill="#C77CFF"/>
<rect x="477.10" y="271.15" width="61.70" height="4.6" fill="#00BFC4"/>
<rect x="538.80" y="271.15" width="63.60" height="4.6" fill="#7CAE00"/>
<rect x="602.40" y="271.15" width="34.60" height="4.6" fill="#F8766D"/>
<rect x="424.10" y="277.80" width="39.00" height="4.6" fill="#C77CFF"/>
<rect x="463.10" y="277.80" width="68.30" height="4.6" fill="#00BFC4"/>
<rect x="531.40" y="277.80" width="80.70" height="4.6" fill="#7CAE00"/>
<rect x="612.10" y="277.80" width="24.90" height="4.6" fill="#F8766D"/>
<rect x="424.10" y="284.45" width="124.80" height="4.6" fill="#C77CFF"/>
<rect x="548.90" y="284.45" width="47.00" height="4.6" fill="#00BFC4"/>
<rect x="595.90" y="284.45" width="37.00" height="4.6" fill="#7CAE00"/>
<rect x="632.90" y="284.45" width="4.10" height="4.6" fill="#F8766D"/>
<rect x="424.10" y="291.10" width="62.10" height="4.6" fill="#C77CFF"/>
<rect x="486.20" y="291.10" width="53.80" height="4.6" fill="#00BFC4"/>
<rect x="540.00" y="291.10" width="66.90" height="4.6" fill="#7CAE00"/>
<rect x="606.90" y="291.10" width="30.10" height="4.6" fill="#F8766D"/>
<rect x="424.10" y="297.75" width="87.80" height="4.6" fill="#C77CFF"/>
<rect x="511.90" y="297.75" width="58.30" height="4.6" fill="#00BFC4"/>
<rect x="570.20" y="297.75" width="52.50" height="4.6" fill="#7CAE00"/>
<rect x="622.70" y="297.75" width="14.30" height="4.6" fill="#F8766D"/>
<rect x="424.10" y="304.40" width="116.70" height="4.6" fill="#C77CFF"/>
<rect x="540.80" y="304.40" width="51.40" height="4.6" fill="#00BFC4"/>
<rect x="592.20" y="304.40" width="36.20" height="4.6" fill="#7CAE00"/>
<rect x="628.40" y="304.40" width="8.60" height="4.6" fill="#F8766D"/>
<rect x="424.10" y="311.05" width="104.90" height="4.6" fill="#C77CFF"/>
<rect x="529.00" y="311.05" width="53.60" height="4.6" fill="#00BFC4"/>
<rect x="582.60" y="311.05" width="37.60" height="4.6" fill="#7CAE00"/>
<rect x="620.20" y="311.05" width="16.80" height="4.6" fill="#F8766D"/>
<rect x="424.10" y="317.70" width="107.10" height="4.6" fill="#C77CFF"/>
<rect x="531.20" y="317.70" width="50.00" height="4.6" fill="#00BFC4"/>
<rect x="581.20" y="317.70" width="33.50" height="4.6" fill="#7CAE00"/>
<rect x="614.70" y="317.70" width="22.30" height="4.6" fill="#F8766D"/>
<rect x="424.10" y="324.35" width="143.10" height="4.6" fill="#C77CFF"/>
<rect x="567.20" y="324.35" width="44.10" height="4.6" fill="#00BFC4"/>
<rect x="611.30" y="324.35" width="22.40" height="4.6" fill="#7CAE00"/>
<rect x="633.70" y="324.35" width="3.30" height="4.6" fill="#F8766D"/>
<rect x="424.10" y="331.00" width="80.00" height="4.6" fill="#C77CFF"/>
<rect x="504.10" y="331.00" width="65.00" height="4.6" fill="#00BFC4"/>
<rect x="569.10" y="331.00" width="61.00" height="4.6" fill="#7CAE00"/>
<rect x="630.10" y="331.00" width="6.90" height="4.6" fill="#F8766D"/>
<rect x="424.10" y="337.65" width="122.70" height="4.6" fill="#C77CFF"/>
<rect x="546.80" y="337.65" width="56.40" height="4.6" fill="#00BFC4"/>
<rect x="603.20" y="337.65" width="29.70" height="4.6" fill="#7CAE00"/>
<rect x="632.90" y="337.65" width="4.10" height="4.6" fill="#F8766D"/>
<rect x="424.10" y="344.30" width="96.50" height="4.6" fill="#C77CFF"/>
<rect x="520.60" y="344.30" width="61.70" height="4.6" fill="#00BFC4"/>
<rect x="582.30" y="344.30" width="43.00" height="4.6" fill="#7CAE00"/>
<rect x="625.30" y="344.30" width="11.70" height="4.6" fill="#F8766D"/>
<rect x="424.10" y="350.95" width="136.00" height="4.6" fill="#C77CFF"/>
<rect x="560.10" y="350.95" width="42.10" height="4.6" fill="#00BFC4"/>
<rect x="602.20" y="350.95" width="29.70" height="4.6" fill="#7CAE00"/>
<rect x="631.90" y="350.95" width="5.10" height="4.6" fill="#F8766D"/>
<rect x="424.10" y="357.60" width="85.10" height="4.6" fill="#C77CFF"/>
<rect x="509.20" y="357.60" width="69.90" height="4.6" fill="#00BFC4"/>
<rect x="579.10" y="357.60" width="40.90" height="4.6" fill="#7CAE00"/>
<rect x="620.00" y="357.60" width="17.00" height="4.6" fill="#F8766D"/>
<rect x="424.10" y="364.25" width="59.60" height="4.6" fill="#C77CFF"/>
<rect x="483.70" y="364.25" width="50.70" height="4.6" fill="#00BFC4"/>
<rect x="534.40" y="364.25" width="64.60" height="4.6" fill="#7CAE00"/>
<rect x="599.00" y="364.25" width="38.00" height="4.6" fill="#F8766D"/>
<rect x="424.10" y="370.90" width="128.50" height="4.6" fill="#C77CFF"/>
<rect x="552.60" y="370.90" width="56.00" height="4.6" fill="#00BFC4"/>
<rect x="608.60" y="370.90" width="20.10" height="4.6" fill="#7CAE00"/>
<rect x="628.70" y="370.90" width="8.30" height="4.6" fill="#F8766D"/>
<rect x="424.10" y="377.55" width="61.80" height="4.6" fill="#C77CFF"/>
<rect x="485.90" y="377.55" width="74.10" height="4.6" fill="#00BFC4"/>
<rect x="560.00" y="377.55" width="58.90" height="4.6" fill="#7CAE00"/>
<rect x="618.90" y="377.55" width="18.10" height="4.6" fill="#F8766D"/>
<rect x="424.10" y="384.20" width="156.30" height="4.6" fill="#C77CFF"/>
<rect x="580.40" y="384.20" width="38.80" height="4.6" fill="#00BFC4"/>
<rect x="619.20" y="384.20" width="14.30" height="4.6" fill="#7CAE00"/>
<rect x="633.50" y="384.20" width="3.50" height="4.6" fill="#F8766D"/>
<g font-size="3.0" font-weight="bold" text-anchor="middle" fill="#000" font-family='"Liberation Sans", sans-serif'><text x="464.15" y="214.65">37.62%</text><text x="530.15" y="214.65">24.38%</text><text x="581.65" y="214.65">24.00%</text><text x="622.10" y="214.65">14.00%</text><text x="492.25" y="221.30">64.02%</text><text x="583.20" y="221.30">21.42%</text><text x="619.60" y="221.30">12.78%</text><text x="635.10" y="221.30">1.78%</text><text x="472.90" y="227.95">45.84%</text><text x="551.45" y="227.95">27.95%</text><text x="604.05" y="227.95">21.47%</text><text x="631.95" y="227.95">4.74%</text><text x="471.25" y="234.60">44.29%</text><text x="548.75" y="234.60">28.51%</text><text x="600.05" y="234.60">19.68%</text><text x="629.00" y="234.60">7.52%</text><text x="450.60" y="241.25">24.89%</text><text x="500.80" y="241.25">22.26%</text><text x="556.05" y="241.25">29.64%</text><text x="612.30" y="241.25">23.20%</text><text x="449.65" y="247.90">24.00%</text><text x="499.35" y="247.90">22.69%</text><text x="556.00" y="247.90">30.53%</text><text x="612.75" y="247.90">22.78%</text><text x="444.55" y="254.55">19.21%</text><text x="484.05" y="254.55">17.90%</text><text x="532.25" y="254.55">27.38%</text><text x="599.20" y="254.55">35.51%</text><text x="456.60" y="261.20">30.53%</text><text x="521.55" y="261.20">30.48%</text><text x="584.35" y="261.20">28.51%</text><text x="625.85" y="261.20">10.47%</text><text x="442.55" y="267.85">17.33%</text><text x="481.10" y="267.85">18.88%</text><text x="536.85" y="267.85">33.49%</text><text x="604.75" y="267.85">30.30%</text><text x="450.60" y="274.50">24.89%</text><text x="507.95" y="274.50">28.98%</text><text x="570.60" y="274.50">29.87%</text><text x="619.70" y="274.50">16.25%</text><text x="443.60" y="281.15">18.32%</text><text x="497.25" y="281.15">32.08%</text><text x="571.75" y="281.15">37.91%</text><text x="624.55" y="281.15">11.70%</text><text x="486.50" y="287.80">58.62%</text><text x="572.40" y="287.80">22.08%</text><text x="614.40" y="287.80">17.38%</text><text x="634.95" y="287.80">1.93%</text><text x="455.15" y="294.45">29.17%</text><text x="513.10" y="294.45">25.27%</text><text x="573.45" y="294.45">31.42%</text><text x="621.95" y="294.45">14.14%</text><text x="468.00" y="301.10">41.24%</text><text x="541.05" y="301.10">27.38%</text><text x="596.45" y="301.10">24.66%</text><text x="629.85" y="301.10">6.72%</text><text x="482.45" y="307.75">54.81%</text><text x="566.50" y="307.75">24.14%</text><text x="610.30" y="307.75">17.00%</text><text x="632.70" y="307.75">4.04%</text><text x="476.55" y="314.40">49.27%</text><text x="555.80" y="314.40">25.18%</text><text x="601.40" y="314.40">17.66%</text><text x="628.60" y="314.40">7.89%</text><text x="477.65" y="321.05">50.31%</text><text x="556.20" y="321.05">23.49%</text><text x="597.95" y="321.05">15.74%</text><text x="625.85" y="321.05">10.47%</text><text x="495.65" y="327.70">67.21%</text><text x="589.25" y="327.70">20.71%</text><text x="622.50" y="327.70">10.52%</text><text x="635.35" y="327.70">1.55%</text><text x="464.10" y="334.35">37.58%</text><text x="536.60" y="334.35">30.53%</text><text x="599.60" y="334.35">28.65%</text><text x="633.55" y="334.35">3.24%</text><text x="485.45" y="341.00">57.63%</text><text x="575.00" y="341.00">26.49%</text><text x="618.05" y="341.00">13.95%</text><text x="634.95" y="341.00">1.93%</text><text x="472.35" y="347.65">45.33%</text><text x="551.45" y="347.65">28.98%</text><text x="603.80" y="347.65">20.20%</text><text x="631.15" y="347.65">5.50%</text><text x="492.10" y="354.30">63.88%</text><text x="581.15" y="354.30">19.77%</text><text x="617.05" y="354.30">13.95%</text><text x="634.45" y="354.30">2.40%</text><text x="466.65" y="360.95">39.97%</text><text x="544.15" y="360.95">32.83%</text><text x="599.55" y="360.95">19.21%</text><text x="628.50" y="360.95">7.98%</text><text x="453.90" y="367.60">27.99%</text><text x="509.05" y="367.60">23.81%</text><text x="566.70" y="367.60">30.34%</text><text x="618.00" y="367.60">17.85%</text><text x="488.35" y="374.25">60.36%</text><text x="580.60" y="374.25">26.30%</text><text x="618.65" y="374.25">9.44%</text><text x="632.85" y="374.25">3.90%</text><text x="455.00" y="380.90">29.03%</text><text x="522.95" y="380.90">34.81%</text><text x="589.45" y="380.90">27.67%</text><text x="627.95" y="380.90">8.50%</text><text x="502.25" y="387.55">73.41%</text><text x="599.80" y="387.55">18.22%</text><text x="626.35" y="387.55">6.72%</text><text x="635.25" y="387.55">1.64%</text></g>
<path d="M413.50 209.90 V390.40 H647.00" fill="none" stroke="#333" stroke-width="1.0"/>
<line x1="424.10" x2="424.10" y1="390.40" y2="392.00" stroke="#333" stroke-width="0.55"/>
<text transform="translate(424.10,396.45) scale(0.865,1)" text-anchor="middle" font-size="4.9" fill="#4d4d4d" font-family='"Liberation Sans", sans-serif'>0.00</text>
<line x1="477.33" x2="477.33" y1="390.40" y2="392.00" stroke="#333" stroke-width="0.55"/>
<text transform="translate(477.33,396.45) scale(0.865,1)" text-anchor="middle" font-size="4.9" fill="#4d4d4d" font-family='"Liberation Sans", sans-serif'>0.25</text>
<line x1="530.55" x2="530.55" y1="390.40" y2="392.00" stroke="#333" stroke-width="0.55"/>
<text transform="translate(530.55,396.45) scale(0.865,1)" text-anchor="middle" font-size="4.9" fill="#4d4d4d" font-family='"Liberation Sans", sans-serif'>0.50</text>
<line x1="583.77" x2="583.77" y1="390.40" y2="392.00" stroke="#333" stroke-width="0.55"/>
<text transform="translate(583.77,396.45) scale(0.865,1)" text-anchor="middle" font-size="4.9" fill="#4d4d4d" font-family='"Liberation Sans", sans-serif'>0.75</text>
<line x1="637.00" x2="637.00" y1="390.40" y2="392.00" stroke="#333" stroke-width="0.55"/>
<text transform="translate(637.00,396.45) scale(0.865,1)" text-anchor="middle" font-size="4.9" fill="#4d4d4d" font-family='"Liberation Sans", sans-serif'>1.00</text>
<text transform="translate(530.1,402.1) scale(0.815,1)" text-anchor="middle" font-size="6.0" font-weight="bold" fill="#000" font-family='"Liberation Sans", sans-serif'>deaths case</text>
<text x="348.1" y="219.6" font-size="18.6" font-weight="bold" fill="#000" font-family='"Liberation Serif", serif'>D</text>
<text x="171.3" y="9.0" font-size="12.3" font-weight="bold" fill="#000" font-family='"Liberation Sans", sans-serif'>1990</text>
<text x="529.7" y="10.6" font-size="12.6" font-weight="bold" fill="#000" font-family='"Liberation Sans", sans-serif'>2017</text>
<text transform="translate(1.0,59.9) rotate(90)" x="0" y="0" font-size="11.7" font-weight="bold" fill="#000" textLength="87.8" lengthAdjust="spacingAndGlyphs" font-family='"Liberation Sans", sans-serif'>incidence cases</text>
<text transform="translate(4.0,253.4) rotate(90)" x="0" y="0" font-size="11.7" font-weight="bold" fill="#000" textLength="66.9" lengthAdjust="spacingAndGlyphs" font-family='"Liberation Sans", sans-serif'>death cases</text>
<text transform="translate(14.7,101.5) rotate(-90)" x="0" y="0" text-anchor="middle" font-size="5.0" fill="#000" font-family='"Liberation Sans", sans-serif'>location</text>
<text transform="translate(352.9,105.0) rotate(-90)" x="0" y="0" text-anchor="middle" font-size="5.0" fill="#000" font-family='"Liberation Sans", sans-serif'>location</text>
<text transform="translate(15.4,299.3) rotate(-90)" x="0" y="0" text-anchor="middle" font-size="5.0" fill="#000" font-family='"Liberation Sans", sans-serif'>location</text>
<text transform="translate(352.6,300.0) rotate(-90)" x="0" y="0" text-anchor="middle" font-size="5.0" fill="#000" font-family='"Liberation Sans", sans-serif'>location</text>
<text transform="translate(317.4,86.10) scale(0.84,1)" font-size="5.9" font-weight="bold" fill="#000" font-family='"Liberation Sans", sans-serif'>age</text>
<rect x="317.40" y="89.30" width="7.6" height="7.5" fill="#F8766D"/>
<text transform="translate(328.20,94.70) scale(0.85,1)" font-size="4.9" fill="#111" font-family='"Liberation Sans", sans-serif'>&lt;20 years</text>
<rect x="317.40" y="97.45" width="7.6" height="7.5" fill="#7CAE00"/>
<text transform="translate(328.20,102.85) scale(0.85,1)" font-size="4.9" fill="#111" font-family='"Liberation Sans", sans-serif'>20 to 39</text>
<rect x="317.40" y="105.60" width="7.6" height="7.5" fill="#00BFC4"/>
<text transform="translate(328.20,111.00) scale(0.85,1)" font-size="4.9" fill="#111" font-family='"Liberation Sans", sans-serif'>40 to 59</text>
<rect x="317.40" y="113.75" width="7.6" height="7.5" fill="#C77CFF"/>
<text transform="translate(328.20,119.15) scale(0.85,1)" font-size="4.9" fill="#111" font-family='"Liberation Sans", sans-serif'>60+ years</text>
<text transform="translate(655.1,89.50) scale(0.84,1)" font-size="5.9" font-weight="bold" fill="#000" font-family='"Liberation Sans", sans-serif'>age</text>
<rect x="655.10" y="92.80" width="7.6" height="7.5" fill="#F8766D"/>
<text transform="translate(665.90,99.00) scale(0.85,1)" font-size="4.9" fill="#111" font-family='"Liberation Sans", sans-serif'>&lt;20 years</text>
<rect x="655.10" y="100.95" width="7.6" height="7.5" fill="#7CAE00"/>
<text transform="translate(665.90,107.15) scale(0.85,1)" font-size="4.9" fill="#111" font-family='"Liberation Sans", sans-serif'>20 to 39</text>
<rect x="655.10" y="109.10" width="7.6" height="7.5" fill="#00BFC4"/>
<text transform="translate(665.90,115.30) scale(0.85,1)" font-size="4.9" fill="#111" font-family='"Liberation Sans", sans-serif'>40 to 59</text>
<rect x="655.10" y="117.25" width="7.6" height="7.5" fill="#C77CFF"/>
<text transform="translate(665.90,123.45) scale(0.85,1)" font-size="4.9" fill="#111" font-family='"Liberation Sans", sans-serif'>60+ years</text>
<text transform="translate(317.6,283.90) scale(0.84,1)" font-size="5.9" font-weight="bold" fill="#000" font-family='"Liberation Sans", sans-serif'>age</text>
<rect x="317.60" y="287.30" width="7.6" height="7.5" fill="#F8766D"/>
<text transform="translate(328.40,292.60) scale(0.85,1)" font-size="4.9" fill="#111" font-family='"Liberation Sans", sans-serif'>&lt;20 years</text>
<rect x="317.60" y="295.45" width="7.6" height="7.5" fill="#7CAE00"/>
<text transform="translate(328.40,300.75) scale(0.85,1)" font-size="4.9" fill="#111" font-family='"Liberation Sans", sans-serif'>20 to 39</text>
<rect x="317.60" y="303.60" width="7.6" height="7.5" fill="#00BFC4"/>
<text transform="translate(328.40,308.90) scale(0.85,1)" font-size="4.9" fill="#111" font-family='"Liberation Sans", sans-serif'>40 to 59</text>
<rect x="317.60" y="311.75" width="7.6" height="7.5" fill="#C77CFF"/>
<text transform="translate(328.40,317.05) scale(0.85,1)" font-size="4.9" fill="#111" font-family='"Liberation Sans", sans-serif'>60+ years</text>
<text transform="translate(655.1,285.10) scale(0.84,1)" font-size="5.9" font-weight="bold" fill="#000" font-family='"Liberation Sans", sans-serif'>age</text>
<rect x="655.10" y="288.00" width="7.6" height="7.5" fill="#F8766D"/>
<text transform="translate(665.90,294.00) scale(0.85,1)" font-size="4.9" fill="#111" font-family='"Liberation Sans", sans-serif'>&lt;20 years</text>
<rect x="655.10" y="296.15" width="7.6" height="7.5" fill="#7CAE00"/>
<text transform="translate(665.90,302.15) scale(0.85,1)" font-size="4.9" fill="#111" font-family='"Liberation Sans", sans-serif'>20 to 39</text>
<rect x="655.10" y="304.30" width="7.6" height="7.5" fill="#00BFC4"/>
<text transform="translate(665.90,310.30) scale(0.85,1)" font-size="4.9" fill="#111" font-family='"Liberation Sans", sans-serif'>40 to 59</text>
<rect x="655.10" y="312.45" width="7.6" height="7.5" fill="#C77CFF"/>
<text transform="translate(665.90,318.45) scale(0.85,1)" font-size="4.9" fill="#111" font-family='"Liberation Sans", sans-serif'>60+ years</text>
</svg>
</body></html>
